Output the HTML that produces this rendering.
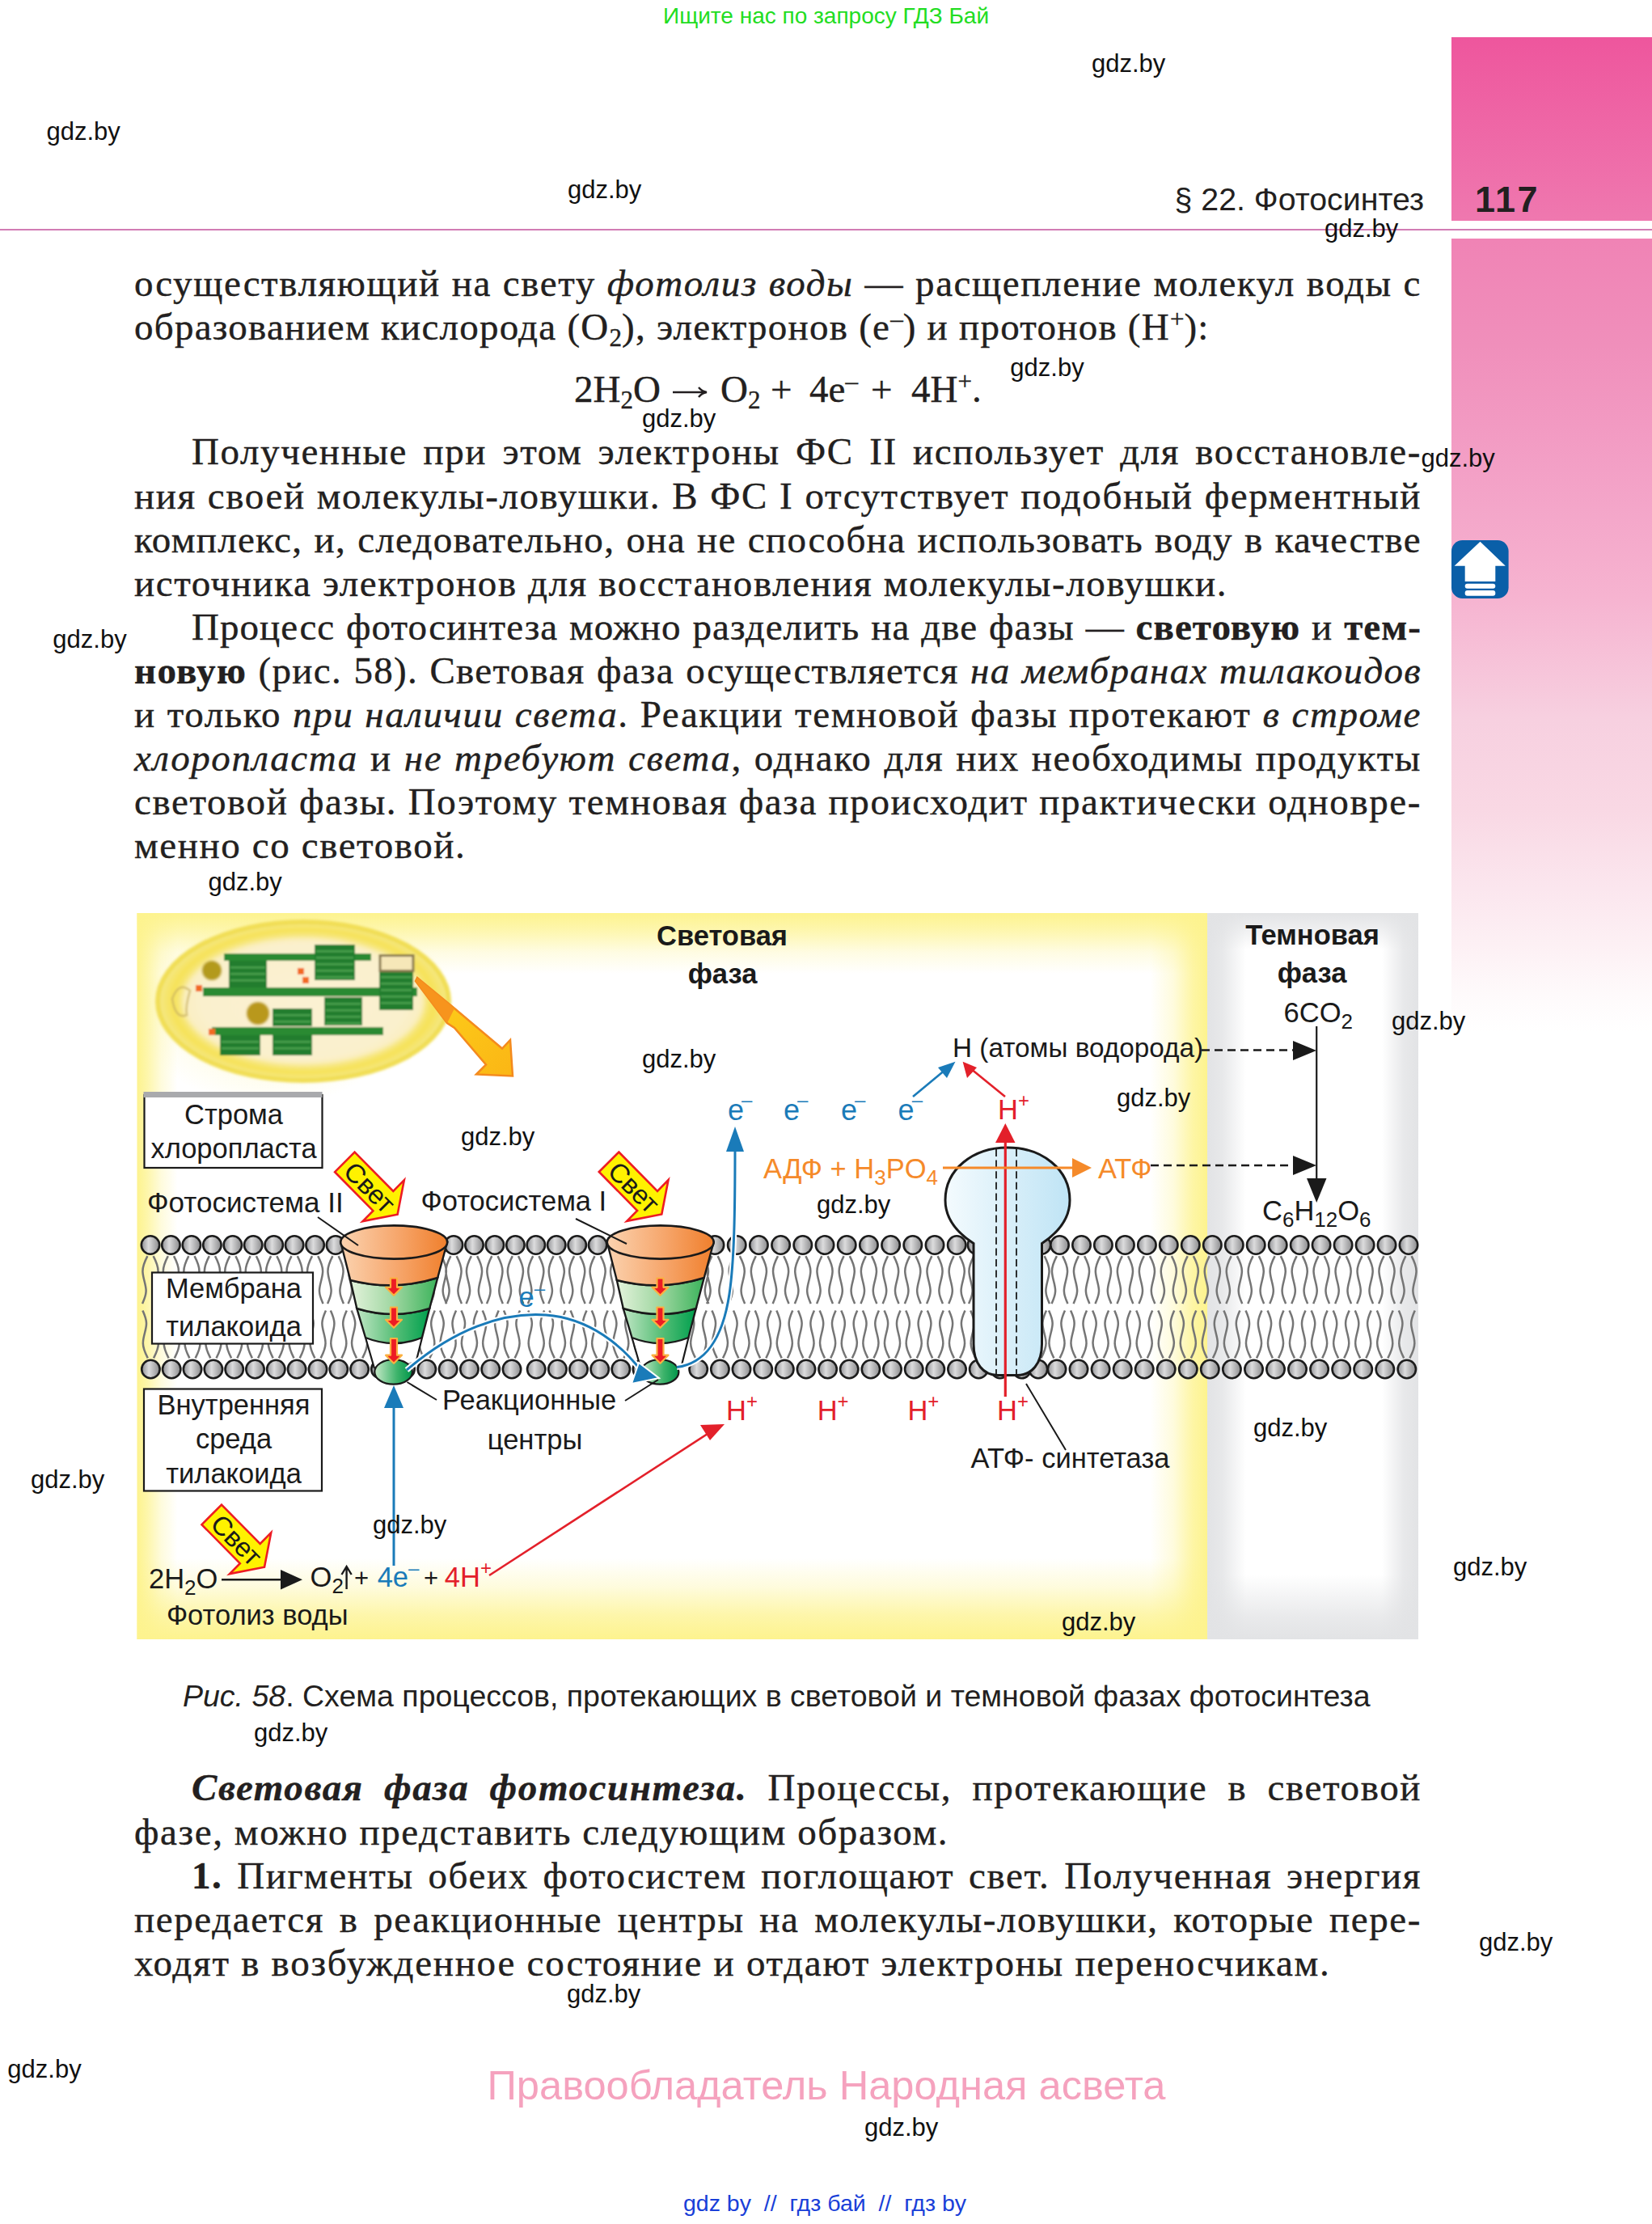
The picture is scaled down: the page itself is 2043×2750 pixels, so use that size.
<!DOCTYPE html>
<html><head><meta charset="utf-8">
<style>
html,body{margin:0;padding:0;background:#fff;}
#pg{position:relative;width:2043px;height:2750px;overflow:hidden;background:#fff;}
.a{position:absolute;white-space:nowrap;}
.ln{position:absolute;left:166px;width:1592px;font-family:"Liberation Serif",serif;font-size:47px;line-height:47px;letter-spacing:1.6px;white-space:nowrap;text-align:justify;text-align-last:justify;color:#231f20;-webkit-text-stroke:0.4px #231f20;}
.nj{text-align:left;text-align-last:left;width:auto;}
.ln i{font-style:italic;}
.ln b{font-weight:bold;}
.sb{font-size:31px;vertical-align:-8px;line-height:0;letter-spacing:0;}
.sp{font-size:31px;vertical-align:15px;line-height:0;letter-spacing:0;}
.sans{font-family:"Liberation Sans",sans-serif;}
</style></head><body>
<div id="pg">
<div class="a" style="left:1795px;top:46px;width:248px;height:227px;background:linear-gradient(#ee569d,#ef78af);"></div>
<div class="a" style="left:1795px;top:295px;width:248px;height:980px;background:linear-gradient(#f083b5 0%,#f08fbb 13.5%,#f3a0c6 29.2%,#f6b3d0 45%,#f7d0e0 60.7%,#f9d8e4 72%,#fbe6ee 82%,#fdf0f4 89%,#fefafb 95.4%,#fff 100%);"></div>
<div class="a" style="left:0;top:282.5px;width:2043px;height:2.2px;background:#d27cb4;"></div>
<svg class="a" style="left:1795px;top:668px" width="71" height="72" viewBox="0 0 71 72">
<rect x="0" y="0" width="70.6" height="72" rx="13.6" fill="#0a5fa8"/>
<path d="M35.5 1.8 L66.8 31.8 L54.3 31.8 L54.3 51.1 L16.7 51.1 L16.7 31.8 L3.6 31.8 Z" fill="#fff"/>
<rect x="16.7" y="53.8" width="37.6" height="6" rx="3" fill="#fff"/>
<rect x="16.7" y="62" width="37.6" height="6.8" rx="3" fill="#fff"/>
</svg>
<div class="a sans" style="left:1452.5px;top:227px;font-size:39.3px;line-height:39.3px;color:#231f20;">§ 22. Фотосинтез</div>
<div class="a sans" style="left:1824px;top:224px;font-size:45px;line-height:45px;font-weight:bold;letter-spacing:2.5px;color:#231f20;">117</div>
<div class="ln" style="top:326.5px;">осуществляющий на свету <i>фотолиз воды</i> — расщепление молекул воды с</div>
<div class="ln nj" style="top:380.7px;letter-spacing:1.25px;">образованием кислорода (O<span class="sb">2</span>), электронов (e<span class="sp">–</span>) и протонов (H<span class="sp">+</span>):</div>
<div class="a" style="left:710px;top:457.6px;font-family:'Liberation Serif',serif;font-size:47px;line-height:47px;color:#231f20;-webkit-text-stroke:0.4px #231f20;">2H<span class="sb">2</span>O</div>
<div class="a" style="left:891px;top:457.6px;font-family:'Liberation Serif',serif;font-size:47px;line-height:47px;color:#231f20;-webkit-text-stroke:0.4px #231f20;">O<span class="sb">2</span></div>
<div class="a" style="left:953px;top:457.6px;font-family:'Liberation Serif',serif;font-size:47px;line-height:47px;color:#231f20;-webkit-text-stroke:0.4px #231f20;">+</div>
<div class="a" style="left:1001px;top:457.6px;font-family:'Liberation Serif',serif;font-size:47px;line-height:47px;color:#231f20;-webkit-text-stroke:0.4px #231f20;">4e<span class="sp">–</span></div>
<div class="a" style="left:1077px;top:457.6px;font-family:'Liberation Serif',serif;font-size:47px;line-height:47px;color:#231f20;-webkit-text-stroke:0.4px #231f20;">+</div>
<div class="a" style="left:1127px;top:457.6px;font-family:'Liberation Serif',serif;font-size:47px;line-height:47px;color:#231f20;-webkit-text-stroke:0.4px #231f20;">4H<span class="sp">+</span>.</div>
<svg class="a" style="left:830px;top:475px" width="46" height="20" viewBox="0 0 46 20"><path d="M2 10 L42 10 M34 4 Q38 9 44 10 Q38 11 34 16" fill="none" stroke="#231f20" stroke-width="2.4"/></svg>
<div class="ln" style="top:535.4px;padding-left:71px;width:1521px;">Полученные при этом электроны ФС II использует для восстановле-</div>
<div class="ln" style="top:589.5px;">ния своей молекулы-ловушки. В ФС I отсутствует подобный ферментный</div>
<div class="ln" style="top:643.5px;letter-spacing:1.3px;">комплекс, и, следовательно, она не способна использовать воду в качестве</div>
<div class="ln nj" style="top:697.6px;">источника электронов для восстановления молекулы-ловушки.</div>
<div class="ln" style="top:751.6px;padding-left:71px;width:1521px;letter-spacing:1.05px;">Процесс фотосинтеза можно разделить на две фазы — <b>световую</b> и <b>тем-</b></div>
<div class="ln" style="top:805.7px;letter-spacing:1.3px;"><b>новую</b> (рис. 58). Световая фаза осуществляется <i>на мембранах тилакоидов</i></div>
<div class="ln" style="top:859.8px;">и только <i>при наличии света</i>. Реакции темновой фазы протекают <i>в строме</i></div>
<div class="ln" style="top:913.8px;"><i>хлоропласта</i> и <i>не требуют света</i>, однако для них необходимы продукты</div>
<div class="ln" style="top:967.9px;">световой фазы. Поэтому темновая фаза происходит практически одновре-</div>
<div class="ln nj" style="top:1021.9px;">менно со световой.</div>
<div class="a sans" style="left:226px;top:2078.5px;font-size:37.5px;line-height:37.5px;color:#231f20;"><i>Рис. 58</i>. Схема процессов, протекающих в световой и темновой фазах фотосинтеза</div>
<div class="ln" style="top:2187.3px;padding-left:71px;width:1521px;"><b><i>Световая фаза фотосинтеза.</i></b> Процессы, протекающие в световой</div>
<div class="ln nj" style="top:2241.5px;">фазе, можно представить следующим образом.</div>
<div class="ln" style="top:2295.7px;padding-left:71px;width:1521px;"><b>1.</b> Пигменты обеих фотосистем поглощают свет. Полученная энергия</div>
<div class="ln" style="top:2349.9px;">передается в реакционные центры на молекулы-ловушки, которые пере-</div>
<div class="ln nj" style="top:2404.1px;letter-spacing:1.75px;">ходят в возбужденное состояние и отдают электроны переносчикам.</div>
<div class="a sans" style="left:602.5px;top:2554px;font-size:50.6px;line-height:50.6px;color:#f5a2be;">Правообладатель Народная асвета</div>
<svg class="a" style="left:0;top:0" width="2043" height="2750" viewBox="0 0 2043 2750" font-family="Liberation Sans, sans-serif">
<defs>
<filter id="blurY" x="-20%" y="-20%" width="140%" height="140%"><feGaussianBlur stdDeviation="15"/></filter>
<filter id="blurG" x="-20%" y="-20%" width="140%" height="140%"><feGaussianBlur stdDeviation="12"/></filter>
<filter id="blur30" x="-20%" y="-20%" width="140%" height="140%"><feGaussianBlur stdDeviation="28"/></filter>
<filter id="blur20" x="-20%" y="-20%" width="140%" height="140%"><feGaussianBlur stdDeviation="18"/></filter>
<filter id="blur3" x="-20%" y="-20%" width="140%" height="140%"><feGaussianBlur stdDeviation="3"/></filter>
<filter id="blur1" x="-20%" y="-20%" width="140%" height="140%"><feGaussianBlur stdDeviation="1.2"/></filter>
<linearGradient id="head" x1="0" y1="0" x2="1" y2="0">
 <stop offset="0" stop-color="#8f9094"/><stop offset="0.4" stop-color="#dcdcdd"/><stop offset="1" stop-color="#8a8a8c"/>
</linearGradient>
<linearGradient id="orng" x1="0" y1="0" x2="1" y2="0">
 <stop offset="0" stop-color="#fbd3b0"/><stop offset="0.55" stop-color="#f6a56a"/><stop offset="1" stop-color="#f07f2c"/>
</linearGradient>
<linearGradient id="grn1" x1="0" y1="0" x2="1" y2="0">
 <stop offset="0" stop-color="#e4f3dc"/><stop offset="0.5" stop-color="#9ed6a0"/><stop offset="1" stop-color="#3bb35b"/>
</linearGradient>
<linearGradient id="grn2" x1="0" y1="0" x2="1" y2="0">
 <stop offset="0" stop-color="#bfe6c4"/><stop offset="0.5" stop-color="#5cc07a"/><stop offset="1" stop-color="#00a04e"/>
</linearGradient>
<linearGradient id="rc" x1="0" y1="0" x2="1" y2="0">
 <stop offset="0" stop-color="#c7e9c8"/><stop offset="0.6" stop-color="#3cb36a"/><stop offset="1" stop-color="#00954a"/>
</linearGradient>
<linearGradient id="atp" x1="0" y1="0" x2="1" y2="0">
 <stop offset="0" stop-color="#f4fbfe"/><stop offset="0.5" stop-color="#d9eff9"/><stop offset="1" stop-color="#bfe4f5"/>
</linearGradient>
<linearGradient id="garr" x1="0" y1="0" x2="1" y2="1">
 <stop offset="0" stop-color="#fdd21a"/><stop offset="1" stop-color="#fbb615"/>
</linearGradient>
<radialGradient id="chl" cx="0.5" cy="0.5" r="0.5">
 <stop offset="0" stop-color="#fbf3d6"/><stop offset="0.7" stop-color="#faeebb"/><stop offset="0.9" stop-color="#f6e25a"/><stop offset="1" stop-color="#f4e88a"/>
</radialGradient>
</defs>
<linearGradient id="gL" x1="0" y1="0" x2="1" y2="0"><stop offset="0" stop-color="#fdf38e" stop-opacity="1"/><stop offset="0.25" stop-color="#fdf38e" stop-opacity="0.75"/><stop offset="0.6" stop-color="#fdf38e" stop-opacity="0.3"/><stop offset="1" stop-color="#fdf38e" stop-opacity="0"/></linearGradient>
<linearGradient id="gR" x1="1" y1="0" x2="0" y2="0"><stop offset="0" stop-color="#fdf38e" stop-opacity="1"/><stop offset="0.25" stop-color="#fdf38e" stop-opacity="0.8"/><stop offset="0.6" stop-color="#fdf38e" stop-opacity="0.3"/><stop offset="1" stop-color="#fdf38e" stop-opacity="0"/></linearGradient>
<linearGradient id="gT" x1="0" y1="0" x2="0" y2="1"><stop offset="0" stop-color="#fdf38e" stop-opacity="1"/><stop offset="0.3" stop-color="#fdf38e" stop-opacity="0.7"/><stop offset="0.65" stop-color="#fdf38e" stop-opacity="0.25"/><stop offset="1" stop-color="#fdf38e" stop-opacity="0"/></linearGradient>
<linearGradient id="gB" x1="0" y1="1" x2="0" y2="0"><stop offset="0" stop-color="#fdf38e" stop-opacity="1"/><stop offset="0.3" stop-color="#fdf38e" stop-opacity="0.75"/><stop offset="0.65" stop-color="#fdf38e" stop-opacity="0.3"/><stop offset="1" stop-color="#fdf38e" stop-opacity="0"/></linearGradient>
<rect x="169.5" y="1129" width="1323.5" height="898" fill="#fff"/>
<rect x="169.5" y="1129" width="50" height="898" fill="url(#gL)"/>
<rect x="1423" y="1129" width="70" height="898" fill="url(#gR)"/>
<rect x="169.5" y="1129" width="1323.5" height="75" fill="url(#gT)"/>
<rect x="169.5" y="1927" width="1323.5" height="100" fill="url(#gB)"/>
<rect x="169.5" y="1129" width="330" height="240" fill="url(#gTL)"/>
<radialGradient id="gTL" cx="0.5" cy="0.5" r="0.5"><stop offset="0" stop-color="#fdf38e" stop-opacity="0.5"/><stop offset="1" stop-color="#fdf38e" stop-opacity="0"/></radialGradient>
<rect x="1493" y="1129" width="261" height="898" fill="#fff"/>
<linearGradient id="hL" x1="0" y1="0" x2="1" y2="0"><stop offset="0" stop-color="#e2e3e5" stop-opacity="1"/><stop offset="0.4" stop-color="#e2e3e5" stop-opacity="0.8"/><stop offset="1" stop-color="#e2e3e5" stop-opacity="0"/></linearGradient>
<linearGradient id="hR" x1="1" y1="0" x2="0" y2="0"><stop offset="0" stop-color="#e2e3e5" stop-opacity="1"/><stop offset="0.4" stop-color="#e2e3e5" stop-opacity="0.8"/><stop offset="1" stop-color="#e2e3e5" stop-opacity="0"/></linearGradient>
<linearGradient id="hT" x1="0" y1="0" x2="0" y2="1"><stop offset="0" stop-color="#e2e3e5" stop-opacity="1"/><stop offset="0.4" stop-color="#e2e3e5" stop-opacity="0.6"/><stop offset="1" stop-color="#e2e3e5" stop-opacity="0"/></linearGradient>
<linearGradient id="hB" x1="0" y1="1" x2="0" y2="0"><stop offset="0" stop-color="#e2e3e5" stop-opacity="1"/><stop offset="0.35" stop-color="#e2e3e5" stop-opacity="0.75"/><stop offset="1" stop-color="#e2e3e5" stop-opacity="0"/></linearGradient>
<rect x="1493" y="1129" width="48" height="898" fill="url(#hL)"/>
<rect x="1709" y="1129" width="45" height="898" fill="url(#hR)"/>
<rect x="1493" y="1129" width="261" height="45" fill="url(#hT)"/>
<rect x="1493" y="1947" width="261" height="80" fill="url(#hB)"/>
<g filter="url(#blur1)">
<ellipse cx="375" cy="1238" rx="180" ry="98" fill="url(#chl)" stroke="#f1de55" stroke-width="6" filter="url(#blur1)"/>
<ellipse cx="375" cy="1238" rx="150" ry="78" fill="#fbf1d2" filter="url(#blur3)" opacity="0.8"/>
<rect x="277" y="1179" width="182" height="9" fill="#2a8a32"/>
<rect x="251" y="1221" width="265" height="11" fill="#2a8a32"/>
<rect x="262" y="1270" width="212" height="10" fill="#2a8a32"/>
<rect x="283" y="1188" width="47" height="33" fill="#247d2d"/>
<rect x="285" y="1195" width="43" height="2.5" fill="#4aa04e"/>
<rect x="285" y="1203" width="43" height="2.5" fill="#4aa04e"/>
<rect x="285" y="1211" width="43" height="2.5" fill="#4aa04e"/>
<rect x="389" y="1168" width="50" height="44" fill="#247d2d"/>
<rect x="391" y="1175" width="46" height="2.5" fill="#4aa04e"/>
<rect x="391" y="1183" width="46" height="2.5" fill="#4aa04e"/>
<rect x="391" y="1191" width="46" height="2.5" fill="#4aa04e"/>
<rect x="391" y="1199" width="46" height="2.5" fill="#4aa04e"/>
<rect x="391" y="1207" width="46" height="2.5" fill="#4aa04e"/>
<rect x="469" y="1200" width="42" height="49" fill="#247d2d"/>
<rect x="471" y="1207" width="38" height="2.5" fill="#4aa04e"/>
<rect x="471" y="1215" width="38" height="2.5" fill="#4aa04e"/>
<rect x="471" y="1223" width="38" height="2.5" fill="#4aa04e"/>
<rect x="471" y="1231" width="38" height="2.5" fill="#4aa04e"/>
<rect x="471" y="1239" width="38" height="2.5" fill="#4aa04e"/>
<rect x="401" y="1233" width="47" height="35" fill="#247d2d"/>
<rect x="403" y="1240" width="43" height="2.5" fill="#4aa04e"/>
<rect x="403" y="1248" width="43" height="2.5" fill="#4aa04e"/>
<rect x="403" y="1256" width="43" height="2.5" fill="#4aa04e"/>
<rect x="403" y="1264" width="43" height="2.5" fill="#4aa04e"/>
<rect x="337" y="1247" width="49" height="22" fill="#247d2d"/>
<rect x="339" y="1254" width="45" height="2.5" fill="#4aa04e"/>
<rect x="339" y="1262" width="45" height="2.5" fill="#4aa04e"/>
<rect x="272" y="1280" width="50" height="25" fill="#247d2d"/>
<rect x="274" y="1287" width="46" height="2.5" fill="#4aa04e"/>
<rect x="274" y="1295" width="46" height="2.5" fill="#4aa04e"/>
<rect x="337" y="1280" width="49" height="25" fill="#247d2d"/>
<rect x="339" y="1287" width="45" height="2.5" fill="#4aa04e"/>
<rect x="339" y="1295" width="45" height="2.5" fill="#4aa04e"/>
<rect x="470" y="1181.5" width="41" height="19" fill="#f6e7b8" stroke="#8a7a50" stroke-width="3"/>
<circle cx="262" cy="1200" r="12" fill="#b39a1c" filter="url(#blur1)"/>
<circle cx="319" cy="1253" r="14" fill="#b9981a" filter="url(#blur1)"/>
<rect x="242" y="1218" width="8" height="8" fill="#f26a21"/>
<rect x="368" y="1197" width="8" height="8" fill="#f26a21"/>
<rect x="374" y="1208" width="8" height="8" fill="#f26a21"/>
<rect x="258" y="1272" width="8" height="8" fill="#f26a21"/>
<path d="M213 1235 q8 -22 22 -10 q-6 20 -4 30 q-14 6 -18 -20z" fill="none" stroke="#c8b060" stroke-width="3" opacity="0.6"/>
</g>
<path d="M516 1209 L561 1246 L621 1296.5 L631 1286 L634 1330.5 L589 1328.5 L601 1316.5 L562 1271 L553 1265 L514 1213 Z" fill="url(#garr)" stroke="#f48a1e" stroke-width="2.5" stroke-linejoin="miter"/>
<path d="M516 1209 L562 1247 L553 1265 L514 1213 Z" fill="#f7941d"/>
<path d="M189.6 1553.1 C194.0 1561.5 196.0 1567.5 195.5 1573.1 195.0 1581.5 191.0 1589.5 191.4 1596.7 191.6 1602.5 194.0 1607.5 196.0 1612.1 M182.4 1553.1 C178.0 1561.5 176.0 1567.5 176.5 1573.1 177.0 1581.5 181.0 1589.5 180.6 1596.7 180.4 1602.5 178.0 1607.5 176.0 1612.1 M215.0 1553.1 C219.4 1561.5 221.4 1567.5 220.9 1573.1 220.4 1581.5 216.4 1589.5 216.8 1596.7 217.0 1602.5 219.4 1607.5 221.4 1612.1 M207.8 1553.1 C203.4 1561.5 201.4 1567.5 201.9 1573.1 202.4 1581.5 206.4 1589.5 206.0 1596.7 205.8 1602.5 203.4 1607.5 201.4 1612.1 M240.5 1553.1 C244.9 1561.5 246.9 1567.5 246.4 1573.1 245.9 1581.5 241.9 1589.5 242.3 1596.7 242.5 1602.5 244.9 1607.5 246.9 1612.1 M233.3 1553.1 C228.9 1561.5 226.9 1567.5 227.4 1573.1 227.9 1581.5 231.9 1589.5 231.5 1596.7 231.3 1602.5 228.9 1607.5 226.9 1612.1 M266.0 1553.1 C270.4 1561.5 272.4 1567.5 271.9 1573.1 271.4 1581.5 267.4 1589.5 267.8 1596.7 268.0 1602.5 270.4 1607.5 272.4 1612.1 M258.8 1553.1 C254.4 1561.5 252.4 1567.5 252.9 1573.1 253.4 1581.5 257.4 1589.5 257.0 1596.7 256.8 1602.5 254.4 1607.5 252.4 1612.1 M291.4 1553.1 C295.8 1561.5 297.8 1567.5 297.3 1573.1 296.8 1581.5 292.8 1589.5 293.2 1596.7 293.4 1602.5 295.8 1607.5 297.8 1612.1 M284.2 1553.1 C279.8 1561.5 277.8 1567.5 278.3 1573.1 278.8 1581.5 282.8 1589.5 282.4 1596.7 282.2 1602.5 279.8 1607.5 277.8 1612.1 M316.9 1553.1 C321.2 1561.5 323.2 1567.5 322.8 1573.1 322.2 1581.5 318.2 1589.5 318.6 1596.7 318.9 1602.5 321.2 1607.5 323.2 1612.1 M309.6 1553.1 C305.2 1561.5 303.2 1567.5 303.8 1573.1 304.2 1581.5 308.2 1589.5 307.9 1596.7 307.6 1602.5 305.2 1607.5 303.2 1612.1 M342.3 1553.1 C346.7 1561.5 348.7 1567.5 348.2 1573.1 347.7 1581.5 343.7 1589.5 344.1 1596.7 344.3 1602.5 346.7 1607.5 348.7 1612.1 M335.1 1553.1 C330.7 1561.5 328.7 1567.5 329.2 1573.1 329.7 1581.5 333.7 1589.5 333.3 1596.7 333.1 1602.5 330.7 1607.5 328.7 1612.1 M367.8 1553.1 C372.1 1561.5 374.1 1567.5 373.6 1573.1 373.1 1581.5 369.1 1589.5 369.5 1596.7 369.8 1602.5 372.1 1607.5 374.1 1612.1 M360.5 1553.1 C356.1 1561.5 354.1 1567.5 354.6 1573.1 355.1 1581.5 359.1 1589.5 358.8 1596.7 358.5 1602.5 356.1 1607.5 354.1 1612.1 M393.2 1553.1 C397.6 1561.5 399.6 1567.5 399.1 1573.1 398.6 1581.5 394.6 1589.5 395.0 1596.7 395.2 1602.5 397.6 1607.5 399.6 1612.1 M386.0 1553.1 C381.6 1561.5 379.6 1567.5 380.1 1573.1 380.6 1581.5 384.6 1589.5 384.2 1596.7 384.0 1602.5 381.6 1607.5 379.6 1612.1 M418.6 1553.1 C423.0 1561.5 425.0 1567.5 424.5 1573.1 424.0 1581.5 420.0 1589.5 420.4 1596.7 420.6 1602.5 423.0 1607.5 425.0 1612.1 M411.4 1553.1 C407.0 1561.5 405.0 1567.5 405.5 1573.1 406.0 1581.5 410.0 1589.5 409.6 1596.7 409.4 1602.5 407.0 1607.5 405.0 1612.1 M444.1 1553.1 C448.5 1561.5 450.5 1567.5 450.0 1573.1 449.5 1581.5 445.5 1589.5 445.9 1596.7 446.1 1602.5 448.5 1607.5 450.5 1612.1 M436.9 1553.1 C432.5 1561.5 430.5 1567.5 431.0 1573.1 431.5 1581.5 435.5 1589.5 435.1 1596.7 434.9 1602.5 432.5 1607.5 430.5 1612.1 M469.6 1553.1 C473.9 1561.5 475.9 1567.5 475.4 1573.1 474.9 1581.5 470.9 1589.5 471.3 1596.7 471.6 1602.5 473.9 1607.5 475.9 1612.1 M462.3 1553.1 C457.9 1561.5 455.9 1567.5 456.4 1573.1 456.9 1581.5 460.9 1589.5 460.6 1596.7 460.3 1602.5 457.9 1607.5 455.9 1612.1 M495.0 1553.1 C499.4 1561.5 501.4 1567.5 500.9 1573.1 500.4 1581.5 496.4 1589.5 496.8 1596.7 497.0 1602.5 499.4 1607.5 501.4 1612.1 M487.8 1553.1 C483.4 1561.5 481.4 1567.5 481.9 1573.1 482.4 1581.5 486.4 1589.5 486.0 1596.7 485.8 1602.5 483.4 1607.5 481.4 1612.1 M520.4 1553.1 C524.8 1561.5 526.8 1567.5 526.3 1573.1 525.8 1581.5 521.8 1589.5 522.2 1596.7 522.4 1602.5 524.8 1607.5 526.8 1612.1 M513.2 1553.1 C508.8 1561.5 506.8 1567.5 507.3 1573.1 507.8 1581.5 511.8 1589.5 511.4 1596.7 511.2 1602.5 508.8 1607.5 506.8 1612.1 M545.9 1553.1 C550.3 1561.5 552.3 1567.5 551.8 1573.1 551.3 1581.5 547.3 1589.5 547.7 1596.7 547.9 1602.5 550.3 1607.5 552.3 1612.1 M538.7 1553.1 C534.3 1561.5 532.3 1567.5 532.8 1573.1 533.3 1581.5 537.3 1589.5 536.9 1596.7 536.7 1602.5 534.3 1607.5 532.3 1612.1 M564.6 1553.1 C569.0 1561.5 571.0 1567.5 570.5 1573.1 570.0 1581.5 566.0 1589.5 566.4 1596.7 566.6 1602.5 569.0 1607.5 571.0 1612.1 M557.4 1553.1 C553.0 1561.5 551.0 1567.5 551.5 1573.1 552.0 1581.5 556.0 1589.5 555.6 1596.7 555.4 1602.5 553.0 1607.5 551.0 1612.1 M590.1 1553.1 C594.5 1561.5 596.5 1567.5 596.0 1573.1 595.5 1581.5 591.5 1589.5 591.9 1596.7 592.1 1602.5 594.5 1607.5 596.5 1612.1 M582.9 1553.1 C578.5 1561.5 576.5 1567.5 577.0 1573.1 577.5 1581.5 581.5 1589.5 581.1 1596.7 580.9 1602.5 578.5 1607.5 576.5 1612.1 M615.5 1553.1 C619.9 1561.5 621.9 1567.5 621.4 1573.1 620.9 1581.5 616.9 1589.5 617.3 1596.7 617.5 1602.5 619.9 1607.5 621.9 1612.1 M608.3 1553.1 C603.9 1561.5 601.9 1567.5 602.4 1573.1 602.9 1581.5 606.9 1589.5 606.5 1596.7 606.3 1602.5 603.9 1607.5 601.9 1612.1 M641.0 1553.1 C645.4 1561.5 647.4 1567.5 646.9 1573.1 646.4 1581.5 642.4 1589.5 642.8 1596.7 643.0 1602.5 645.4 1607.5 647.4 1612.1 M633.8 1553.1 C629.4 1561.5 627.4 1567.5 627.9 1573.1 628.4 1581.5 632.4 1589.5 632.0 1596.7 631.8 1602.5 629.4 1607.5 627.4 1612.1 M666.4 1553.1 C670.8 1561.5 672.8 1567.5 672.3 1573.1 671.8 1581.5 667.8 1589.5 668.2 1596.7 668.4 1602.5 670.8 1607.5 672.8 1612.1 M659.2 1553.1 C654.8 1561.5 652.8 1567.5 653.3 1573.1 653.8 1581.5 657.8 1589.5 657.4 1596.7 657.2 1602.5 654.8 1607.5 652.8 1612.1 M691.9 1553.1 C696.2 1561.5 698.2 1567.5 697.8 1573.1 697.2 1581.5 693.2 1589.5 693.6 1596.7 693.9 1602.5 696.2 1607.5 698.2 1612.1 M684.6 1553.1 C680.2 1561.5 678.2 1567.5 678.8 1573.1 679.2 1581.5 683.2 1589.5 682.9 1596.7 682.6 1602.5 680.2 1607.5 678.2 1612.1 M717.3 1553.1 C721.7 1561.5 723.7 1567.5 723.2 1573.1 722.7 1581.5 718.7 1589.5 719.1 1596.7 719.3 1602.5 721.7 1607.5 723.7 1612.1 M710.1 1553.1 C705.7 1561.5 703.7 1567.5 704.2 1573.1 704.7 1581.5 708.7 1589.5 708.3 1596.7 708.1 1602.5 705.7 1607.5 703.7 1612.1 M742.8 1553.1 C747.1 1561.5 749.1 1567.5 748.6 1573.1 748.1 1581.5 744.1 1589.5 744.5 1596.7 744.8 1602.5 747.1 1607.5 749.1 1612.1 M735.5 1553.1 C731.1 1561.5 729.1 1567.5 729.6 1573.1 730.1 1581.5 734.1 1589.5 733.8 1596.7 733.5 1602.5 731.1 1607.5 729.1 1612.1 M768.2 1553.1 C772.6 1561.5 774.6 1567.5 774.1 1573.1 773.6 1581.5 769.6 1589.5 770.0 1596.7 770.2 1602.5 772.6 1607.5 774.6 1612.1 M761.0 1553.1 C756.6 1561.5 754.6 1567.5 755.1 1573.1 755.6 1581.5 759.6 1589.5 759.2 1596.7 759.0 1602.5 756.6 1607.5 754.6 1612.1 M793.6 1553.1 C798.0 1561.5 800.0 1567.5 799.5 1573.1 799.0 1581.5 795.0 1589.5 795.4 1596.7 795.6 1602.5 798.0 1607.5 800.0 1612.1 M786.4 1553.1 C782.0 1561.5 780.0 1567.5 780.5 1573.1 781.0 1581.5 785.0 1589.5 784.6 1596.7 784.4 1602.5 782.0 1607.5 780.0 1612.1 M819.1 1553.1 C823.5 1561.5 825.5 1567.5 825.0 1573.1 824.5 1581.5 820.5 1589.5 820.9 1596.7 821.1 1602.5 823.5 1607.5 825.5 1612.1 M811.9 1553.1 C807.5 1561.5 805.5 1567.5 806.0 1573.1 806.5 1581.5 810.5 1589.5 810.1 1596.7 809.9 1602.5 807.5 1607.5 805.5 1612.1 M844.6 1553.1 C849.0 1561.5 851.0 1567.5 850.5 1573.1 850.0 1581.5 846.0 1589.5 846.4 1596.7 846.6 1602.5 849.0 1607.5 851.0 1612.1 M837.4 1553.1 C833.0 1561.5 831.0 1567.5 831.5 1573.1 832.0 1581.5 836.0 1589.5 835.6 1596.7 835.4 1602.5 833.0 1607.5 831.0 1612.1 M870.0 1553.1 C874.4 1561.5 876.4 1567.5 875.9 1573.1 875.4 1581.5 871.4 1589.5 871.8 1596.7 872.0 1602.5 874.4 1607.5 876.4 1612.1 M862.8 1553.1 C858.4 1561.5 856.4 1567.5 856.9 1573.1 857.4 1581.5 861.4 1589.5 861.0 1596.7 860.8 1602.5 858.4 1607.5 856.4 1612.1 M887.6 1553.1 C892.0 1561.5 894.0 1567.5 893.5 1573.1 893.0 1581.5 889.0 1589.5 889.4 1596.7 889.6 1602.5 892.0 1607.5 894.0 1612.1 M880.4 1553.1 C876.0 1561.5 874.0 1567.5 874.5 1573.1 875.0 1581.5 879.0 1589.5 878.6 1596.7 878.4 1602.5 876.0 1607.5 874.0 1612.1 M914.8 1553.1 C919.2 1561.5 921.2 1567.5 920.7 1573.1 920.2 1581.5 916.2 1589.5 916.6 1596.7 916.8 1602.5 919.2 1607.5 921.2 1612.1 M907.6 1553.1 C903.2 1561.5 901.2 1567.5 901.7 1573.1 902.2 1581.5 906.2 1589.5 905.8 1596.7 905.6 1602.5 903.2 1607.5 901.2 1612.1 M942.0 1553.1 C946.4 1561.5 948.4 1567.5 947.9 1573.1 947.4 1581.5 943.4 1589.5 943.8 1596.7 944.0 1602.5 946.4 1607.5 948.4 1612.1 M934.8 1553.1 C930.4 1561.5 928.4 1567.5 928.9 1573.1 929.4 1581.5 933.4 1589.5 933.0 1596.7 932.8 1602.5 930.4 1607.5 928.4 1612.1 M969.2 1553.1 C973.6 1561.5 975.6 1567.5 975.1 1573.1 974.6 1581.5 970.6 1589.5 971.0 1596.7 971.2 1602.5 973.6 1607.5 975.6 1612.1 M962.0 1553.1 C957.6 1561.5 955.6 1567.5 956.1 1573.1 956.6 1581.5 960.6 1589.5 960.2 1596.7 960.0 1602.5 957.6 1607.5 955.6 1612.1 M996.4 1553.1 C1000.8 1561.5 1002.8 1567.5 1002.3 1573.1 1001.8 1581.5 997.8 1589.5 998.2 1596.7 998.4 1602.5 1000.8 1607.5 1002.8 1612.1 M989.2 1553.1 C984.8 1561.5 982.8 1567.5 983.3 1573.1 983.8 1581.5 987.8 1589.5 987.4 1596.7 987.2 1602.5 984.8 1607.5 982.8 1612.1 M1023.6 1553.1 C1028.0 1561.5 1030.0 1567.5 1029.5 1573.1 1029.0 1581.5 1025.0 1589.5 1025.4 1596.7 1025.6 1602.5 1028.0 1607.5 1030.0 1612.1 M1016.4 1553.1 C1012.0 1561.5 1010.0 1567.5 1010.5 1573.1 1011.0 1581.5 1015.0 1589.5 1014.6 1596.7 1014.4 1602.5 1012.0 1607.5 1010.0 1612.1 M1050.8 1553.1 C1055.2 1561.5 1057.2 1567.5 1056.7 1573.1 1056.2 1581.5 1052.2 1589.5 1052.6 1596.7 1052.8 1602.5 1055.2 1607.5 1057.2 1612.1 M1043.6 1553.1 C1039.2 1561.5 1037.2 1567.5 1037.7 1573.1 1038.2 1581.5 1042.2 1589.5 1041.8 1596.7 1041.6 1602.5 1039.2 1607.5 1037.2 1612.1 M1078.0 1553.1 C1082.4 1561.5 1084.4 1567.5 1083.9 1573.1 1083.4 1581.5 1079.4 1589.5 1079.8 1596.7 1080.0 1602.5 1082.4 1607.5 1084.4 1612.1 M1070.8 1553.1 C1066.4 1561.5 1064.4 1567.5 1064.9 1573.1 1065.4 1581.5 1069.4 1589.5 1069.0 1596.7 1068.8 1602.5 1066.4 1607.5 1064.4 1612.1 M1105.2 1553.1 C1109.6 1561.5 1111.6 1567.5 1111.1 1573.1 1110.6 1581.5 1106.6 1589.5 1107.0 1596.7 1107.2 1602.5 1109.6 1607.5 1111.6 1612.1 M1098.0 1553.1 C1093.6 1561.5 1091.6 1567.5 1092.1 1573.1 1092.6 1581.5 1096.6 1589.5 1096.2 1596.7 1096.0 1602.5 1093.6 1607.5 1091.6 1612.1 M1132.4 1553.1 C1136.8 1561.5 1138.8 1567.5 1138.3 1573.1 1137.8 1581.5 1133.8 1589.5 1134.2 1596.7 1134.4 1602.5 1136.8 1607.5 1138.8 1612.1 M1125.2 1553.1 C1120.8 1561.5 1118.8 1567.5 1119.3 1573.1 1119.8 1581.5 1123.8 1589.5 1123.4 1596.7 1123.2 1602.5 1120.8 1607.5 1118.8 1612.1 M1159.6 1553.1 C1164.0 1561.5 1166.0 1567.5 1165.5 1573.1 1165.0 1581.5 1161.0 1589.5 1161.4 1596.7 1161.6 1602.5 1164.0 1607.5 1166.0 1612.1 M1152.4 1553.1 C1148.0 1561.5 1146.0 1567.5 1146.5 1573.1 1147.0 1581.5 1151.0 1589.5 1150.6 1596.7 1150.4 1602.5 1148.0 1607.5 1146.0 1612.1 M1186.8 1553.1 C1191.2 1561.5 1193.2 1567.5 1192.7 1573.1 1192.2 1581.5 1188.2 1589.5 1188.6 1596.7 1188.8 1602.5 1191.2 1607.5 1193.2 1612.1 M1179.6 1553.1 C1175.2 1561.5 1173.2 1567.5 1173.7 1573.1 1174.2 1581.5 1178.2 1589.5 1177.8 1596.7 1177.6 1602.5 1175.2 1607.5 1173.2 1612.1 M1211.6 1553.1 C1216.0 1561.5 1218.0 1567.5 1217.5 1573.1 1217.0 1581.5 1213.0 1589.5 1213.4 1596.7 1213.6 1602.5 1216.0 1607.5 1218.0 1612.1 M1204.4 1553.1 C1200.0 1561.5 1198.0 1567.5 1198.5 1573.1 1199.0 1581.5 1203.0 1589.5 1202.6 1596.7 1202.4 1602.5 1200.0 1607.5 1198.0 1612.1 M1239.6 1553.1 C1244.0 1561.5 1246.0 1567.5 1245.5 1573.1 1245.0 1581.5 1241.0 1589.5 1241.4 1596.7 1241.6 1602.5 1244.0 1607.5 1246.0 1612.1 M1232.4 1553.1 C1228.0 1561.5 1226.0 1567.5 1226.5 1573.1 1227.0 1581.5 1231.0 1589.5 1230.6 1596.7 1230.4 1602.5 1228.0 1607.5 1226.0 1612.1 M1265.6 1553.1 C1270.0 1561.5 1272.0 1567.5 1271.5 1573.1 1271.0 1581.5 1267.0 1589.5 1267.4 1596.7 1267.6 1602.5 1270.0 1607.5 1272.0 1612.1 M1258.4 1553.1 C1254.0 1561.5 1252.0 1567.5 1252.5 1573.1 1253.0 1581.5 1257.0 1589.5 1256.6 1596.7 1256.4 1602.5 1254.0 1607.5 1252.0 1612.1 M1291.6 1553.1 C1296.0 1561.5 1298.0 1567.5 1297.5 1573.1 1297.0 1581.5 1293.0 1589.5 1293.4 1596.7 1293.6 1602.5 1296.0 1607.5 1298.0 1612.1 M1284.4 1553.1 C1280.0 1561.5 1278.0 1567.5 1278.5 1573.1 1279.0 1581.5 1283.0 1589.5 1282.6 1596.7 1282.4 1602.5 1280.0 1607.5 1278.0 1612.1 M1314.1 1553.1 C1318.5 1561.5 1320.5 1567.5 1320.0 1573.1 1319.5 1581.5 1315.5 1589.5 1315.9 1596.7 1316.1 1602.5 1318.5 1607.5 1320.5 1612.1 M1306.9 1553.1 C1302.5 1561.5 1300.5 1567.5 1301.0 1573.1 1301.5 1581.5 1305.5 1589.5 1305.1 1596.7 1304.9 1602.5 1302.5 1607.5 1300.5 1612.1 M1341.1 1553.1 C1345.5 1561.5 1347.5 1567.5 1347.0 1573.1 1346.5 1581.5 1342.5 1589.5 1342.9 1596.7 1343.1 1602.5 1345.5 1607.5 1347.5 1612.1 M1333.9 1553.1 C1329.5 1561.5 1327.5 1567.5 1328.0 1573.1 1328.5 1581.5 1332.5 1589.5 1332.1 1596.7 1331.9 1602.5 1329.5 1607.5 1327.5 1612.1 M1368.0 1553.1 C1372.4 1561.5 1374.4 1567.5 1373.9 1573.1 1373.4 1581.5 1369.4 1589.5 1369.8 1596.7 1370.0 1602.5 1372.4 1607.5 1374.4 1612.1 M1360.8 1553.1 C1356.4 1561.5 1354.4 1567.5 1354.9 1573.1 1355.4 1581.5 1359.4 1589.5 1359.0 1596.7 1358.8 1602.5 1356.4 1607.5 1354.4 1612.1 M1395.0 1553.1 C1399.4 1561.5 1401.4 1567.5 1400.9 1573.1 1400.4 1581.5 1396.4 1589.5 1396.8 1596.7 1397.0 1602.5 1399.4 1607.5 1401.4 1612.1 M1387.8 1553.1 C1383.4 1561.5 1381.4 1567.5 1381.9 1573.1 1382.4 1581.5 1386.4 1589.5 1386.0 1596.7 1385.8 1602.5 1383.4 1607.5 1381.4 1612.1 M1422.0 1553.1 C1426.4 1561.5 1428.4 1567.5 1427.9 1573.1 1427.4 1581.5 1423.4 1589.5 1423.8 1596.7 1424.0 1602.5 1426.4 1607.5 1428.4 1612.1 M1414.8 1553.1 C1410.4 1561.5 1408.4 1567.5 1408.9 1573.1 1409.4 1581.5 1413.4 1589.5 1413.0 1596.7 1412.8 1602.5 1410.4 1607.5 1408.4 1612.1 M1448.9 1553.1 C1453.3 1561.5 1455.3 1567.5 1454.8 1573.1 1454.3 1581.5 1450.3 1589.5 1450.8 1596.7 1450.9 1602.5 1453.3 1607.5 1455.3 1612.1 M1441.8 1553.1 C1437.3 1561.5 1435.3 1567.5 1435.8 1573.1 1436.3 1581.5 1440.3 1589.5 1439.9 1596.7 1439.8 1602.5 1437.3 1607.5 1435.3 1612.1 M1475.9 1553.1 C1480.3 1561.5 1482.3 1567.5 1481.8 1573.1 1481.3 1581.5 1477.3 1589.5 1477.7 1596.7 1477.9 1602.5 1480.3 1607.5 1482.3 1612.1 M1468.7 1553.1 C1464.3 1561.5 1462.3 1567.5 1462.8 1573.1 1463.3 1581.5 1467.3 1589.5 1466.9 1596.7 1466.7 1602.5 1464.3 1607.5 1462.3 1612.1 M1502.9 1553.1 C1507.3 1561.5 1509.3 1567.5 1508.8 1573.1 1508.3 1581.5 1504.3 1589.5 1504.7 1596.7 1504.9 1602.5 1507.3 1607.5 1509.3 1612.1 M1495.7 1553.1 C1491.3 1561.5 1489.3 1567.5 1489.8 1573.1 1490.3 1581.5 1494.3 1589.5 1493.9 1596.7 1493.7 1602.5 1491.3 1607.5 1489.3 1612.1 M1529.9 1553.1 C1534.3 1561.5 1536.3 1567.5 1535.8 1573.1 1535.3 1581.5 1531.3 1589.5 1531.7 1596.7 1531.9 1602.5 1534.3 1607.5 1536.3 1612.1 M1522.7 1553.1 C1518.3 1561.5 1516.3 1567.5 1516.8 1573.1 1517.3 1581.5 1521.3 1589.5 1520.9 1596.7 1520.7 1602.5 1518.3 1607.5 1516.3 1612.1 M1556.8 1553.1 C1561.2 1561.5 1563.2 1567.5 1562.7 1573.1 1562.2 1581.5 1558.2 1589.5 1558.6 1596.7 1558.8 1602.5 1561.2 1607.5 1563.2 1612.1 M1549.6 1553.1 C1545.2 1561.5 1543.2 1567.5 1543.7 1573.1 1544.2 1581.5 1548.2 1589.5 1547.8 1596.7 1547.6 1602.5 1545.2 1607.5 1543.2 1612.1 M1583.8 1553.1 C1588.2 1561.5 1590.2 1567.5 1589.7 1573.1 1589.2 1581.5 1585.2 1589.5 1585.6 1596.7 1585.8 1602.5 1588.2 1607.5 1590.2 1612.1 M1576.6 1553.1 C1572.2 1561.5 1570.2 1567.5 1570.7 1573.1 1571.2 1581.5 1575.2 1589.5 1574.8 1596.7 1574.6 1602.5 1572.2 1607.5 1570.2 1612.1 M1610.8 1553.1 C1615.2 1561.5 1617.2 1567.5 1616.7 1573.1 1616.2 1581.5 1612.2 1589.5 1612.6 1596.7 1612.8 1602.5 1615.2 1607.5 1617.2 1612.1 M1603.6 1553.1 C1599.2 1561.5 1597.2 1567.5 1597.7 1573.1 1598.2 1581.5 1602.2 1589.5 1601.8 1596.7 1601.6 1602.5 1599.2 1607.5 1597.2 1612.1 M1637.7 1553.1 C1642.1 1561.5 1644.1 1567.5 1643.6 1573.1 1643.1 1581.5 1639.1 1589.5 1639.5 1596.7 1639.7 1602.5 1642.1 1607.5 1644.1 1612.1 M1630.5 1553.1 C1626.1 1561.5 1624.1 1567.5 1624.6 1573.1 1625.1 1581.5 1629.1 1589.5 1628.7 1596.7 1628.5 1602.5 1626.1 1607.5 1624.1 1612.1 M1664.7 1553.1 C1669.1 1561.5 1671.1 1567.5 1670.6 1573.1 1670.1 1581.5 1666.1 1589.5 1666.5 1596.7 1666.7 1602.5 1669.1 1607.5 1671.1 1612.1 M1657.5 1553.1 C1653.1 1561.5 1651.1 1567.5 1651.6 1573.1 1652.1 1581.5 1656.1 1589.5 1655.7 1596.7 1655.5 1602.5 1653.1 1607.5 1651.1 1612.1 M1691.7 1553.1 C1696.1 1561.5 1698.1 1567.5 1697.6 1573.1 1697.1 1581.5 1693.1 1589.5 1693.5 1596.7 1693.7 1602.5 1696.1 1607.5 1698.1 1612.1 M1684.5 1553.1 C1680.1 1561.5 1678.1 1567.5 1678.6 1573.1 1679.1 1581.5 1683.1 1589.5 1682.7 1596.7 1682.5 1602.5 1680.1 1607.5 1678.1 1612.1 M1718.6 1553.1 C1723.0 1561.5 1725.0 1567.5 1724.5 1573.1 1724.0 1581.5 1720.0 1589.5 1720.5 1596.7 1720.6 1602.5 1723.0 1607.5 1725.0 1612.1 M1711.5 1553.1 C1707.0 1561.5 1705.0 1567.5 1705.5 1573.1 1706.0 1581.5 1710.0 1589.5 1709.6 1596.7 1709.5 1602.5 1707.0 1607.5 1705.0 1612.1 M1745.6 1553.1 C1750.0 1561.5 1752.0 1567.5 1751.5 1573.1 1751.0 1581.5 1747.0 1589.5 1747.4 1596.7 1747.6 1602.5 1750.0 1607.5 1752.0 1612.1 M1738.4 1553.1 C1734.0 1561.5 1732.0 1567.5 1732.5 1573.1 1733.0 1581.5 1737.0 1589.5 1736.6 1596.7 1736.4 1602.5 1734.0 1607.5 1732.0 1612.1 M190.0 1679.4 C194.4 1671.0 196.4 1665.0 195.9 1659.4 195.4 1651.0 191.4 1643.0 191.8 1635.8 192.0 1630.0 194.4 1625.0 196.4 1620.4 M182.8 1679.4 C178.4 1671.0 176.4 1665.0 176.9 1659.4 177.4 1651.0 181.4 1643.0 181.0 1635.8 180.8 1630.0 178.4 1625.0 176.4 1620.4 M215.8 1679.4 C220.2 1671.0 222.2 1665.0 221.7 1659.4 221.2 1651.0 217.2 1643.0 217.6 1635.8 217.8 1630.0 220.2 1625.0 222.2 1620.4 M208.6 1679.4 C204.2 1671.0 202.2 1665.0 202.7 1659.4 203.2 1651.0 207.2 1643.0 206.8 1635.8 206.6 1630.0 204.2 1625.0 202.2 1620.4 M241.6 1679.4 C246.0 1671.0 248.0 1665.0 247.5 1659.4 247.0 1651.0 243.0 1643.0 243.4 1635.8 243.6 1630.0 246.0 1625.0 248.0 1620.4 M234.4 1679.4 C230.0 1671.0 228.0 1665.0 228.5 1659.4 229.0 1651.0 233.0 1643.0 232.6 1635.8 232.4 1630.0 230.0 1625.0 228.0 1620.4 M267.5 1679.4 C271.9 1671.0 273.9 1665.0 273.4 1659.4 272.9 1651.0 268.9 1643.0 269.3 1635.8 269.5 1630.0 271.9 1625.0 273.9 1620.4 M260.3 1679.4 C255.9 1671.0 253.9 1665.0 254.4 1659.4 254.9 1651.0 258.9 1643.0 258.5 1635.8 258.3 1630.0 255.9 1625.0 253.9 1620.4 M293.3 1679.4 C297.7 1671.0 299.7 1665.0 299.2 1659.4 298.7 1651.0 294.7 1643.0 295.1 1635.8 295.3 1630.0 297.7 1625.0 299.7 1620.4 M286.1 1679.4 C281.7 1671.0 279.7 1665.0 280.2 1659.4 280.7 1651.0 284.7 1643.0 284.3 1635.8 284.1 1630.0 281.7 1625.0 279.7 1620.4 M319.1 1679.4 C323.5 1671.0 325.5 1665.0 325.0 1659.4 324.5 1651.0 320.5 1643.0 320.9 1635.8 321.1 1630.0 323.5 1625.0 325.5 1620.4 M311.9 1679.4 C307.5 1671.0 305.5 1665.0 306.0 1659.4 306.5 1651.0 310.5 1643.0 310.1 1635.8 309.9 1630.0 307.5 1625.0 305.5 1620.4 M344.9 1679.4 C349.3 1671.0 351.3 1665.0 350.8 1659.4 350.3 1651.0 346.3 1643.0 346.7 1635.8 346.9 1630.0 349.3 1625.0 351.3 1620.4 M337.7 1679.4 C333.3 1671.0 331.3 1665.0 331.8 1659.4 332.3 1651.0 336.3 1643.0 335.9 1635.8 335.7 1630.0 333.3 1625.0 331.3 1620.4 M370.7 1679.4 C375.1 1671.0 377.1 1665.0 376.6 1659.4 376.1 1651.0 372.1 1643.0 372.5 1635.8 372.7 1630.0 375.1 1625.0 377.1 1620.4 M363.5 1679.4 C359.1 1671.0 357.1 1665.0 357.6 1659.4 358.1 1651.0 362.1 1643.0 361.7 1635.8 361.5 1630.0 359.1 1625.0 357.1 1620.4 M396.6 1679.4 C401.0 1671.0 403.0 1665.0 402.5 1659.4 402.0 1651.0 398.0 1643.0 398.4 1635.8 398.6 1630.0 401.0 1625.0 403.0 1620.4 M389.4 1679.4 C385.0 1671.0 383.0 1665.0 383.5 1659.4 384.0 1651.0 388.0 1643.0 387.6 1635.8 387.4 1630.0 385.0 1625.0 383.0 1620.4 M422.4 1679.4 C426.8 1671.0 428.8 1665.0 428.3 1659.4 427.8 1651.0 423.8 1643.0 424.2 1635.8 424.4 1630.0 426.8 1625.0 428.8 1620.4 M415.2 1679.4 C410.8 1671.0 408.8 1665.0 409.3 1659.4 409.8 1651.0 413.8 1643.0 413.4 1635.8 413.2 1630.0 410.8 1625.0 408.8 1620.4 M448.2 1679.4 C452.6 1671.0 454.6 1665.0 454.1 1659.4 453.6 1651.0 449.6 1643.0 450.0 1635.8 450.2 1630.0 452.6 1625.0 454.6 1620.4 M441.0 1679.4 C436.6 1671.0 434.6 1665.0 435.1 1659.4 435.6 1651.0 439.6 1643.0 439.2 1635.8 439.0 1630.0 436.6 1625.0 434.6 1620.4 M474.0 1679.4 C478.4 1671.0 480.4 1665.0 479.9 1659.4 479.4 1651.0 475.4 1643.0 475.8 1635.8 476.0 1630.0 478.4 1625.0 480.4 1620.4 M466.8 1679.4 C462.4 1671.0 460.4 1665.0 460.9 1659.4 461.4 1651.0 465.4 1643.0 465.0 1635.8 464.8 1630.0 462.4 1625.0 460.4 1620.4 M505.1 1679.4 C509.5 1671.0 511.5 1665.0 511.0 1659.4 510.5 1651.0 506.5 1643.0 506.9 1635.8 507.1 1630.0 509.5 1625.0 511.5 1620.4 M497.9 1679.4 C493.5 1671.0 491.5 1665.0 492.0 1659.4 492.5 1651.0 496.5 1643.0 496.1 1635.8 495.9 1630.0 493.5 1625.0 491.5 1620.4 M531.4 1679.4 C535.8 1671.0 537.8 1665.0 537.3 1659.4 536.8 1651.0 532.8 1643.0 533.2 1635.8 533.4 1630.0 535.8 1625.0 537.8 1620.4 M524.2 1679.4 C519.8 1671.0 517.8 1665.0 518.3 1659.4 518.8 1651.0 522.8 1643.0 522.4 1635.8 522.2 1630.0 519.8 1625.0 517.8 1620.4 M557.7 1679.4 C562.1 1671.0 564.1 1665.0 563.6 1659.4 563.1 1651.0 559.1 1643.0 559.5 1635.8 559.7 1630.0 562.1 1625.0 564.1 1620.4 M550.5 1679.4 C546.1 1671.0 544.1 1665.0 544.6 1659.4 545.1 1651.0 549.1 1643.0 548.7 1635.8 548.5 1630.0 546.1 1625.0 544.1 1620.4 M584.0 1679.4 C588.4 1671.0 590.4 1665.0 589.9 1659.4 589.4 1651.0 585.4 1643.0 585.8 1635.8 586.0 1630.0 588.4 1625.0 590.4 1620.4 M576.8 1679.4 C572.4 1671.0 570.4 1665.0 570.9 1659.4 571.4 1651.0 575.4 1643.0 575.0 1635.8 574.8 1630.0 572.4 1625.0 570.4 1620.4 M610.3 1679.4 C614.7 1671.0 616.7 1665.0 616.2 1659.4 615.7 1651.0 611.7 1643.0 612.1 1635.8 612.3 1630.0 614.7 1625.0 616.7 1620.4 M603.1 1679.4 C598.7 1671.0 596.7 1665.0 597.2 1659.4 597.7 1651.0 601.7 1643.0 601.3 1635.8 601.1 1630.0 598.7 1625.0 596.7 1620.4 M636.6 1679.4 C641.0 1671.0 643.0 1665.0 642.5 1659.4 642.0 1651.0 638.0 1643.0 638.4 1635.8 638.6 1630.0 641.0 1625.0 643.0 1620.4 M629.4 1679.4 C625.0 1671.0 623.0 1665.0 623.5 1659.4 624.0 1651.0 628.0 1643.0 627.6 1635.8 627.4 1630.0 625.0 1625.0 623.0 1620.4 M666.8 1679.4 C671.2 1671.0 673.2 1665.0 672.7 1659.4 672.2 1651.0 668.2 1643.0 668.6 1635.8 668.8 1630.0 671.2 1625.0 673.2 1620.4 M659.6 1679.4 C655.2 1671.0 653.2 1665.0 653.7 1659.4 654.2 1651.0 658.2 1643.0 657.8 1635.8 657.6 1630.0 655.2 1625.0 653.2 1620.4 M693.0 1679.4 C697.4 1671.0 699.4 1665.0 698.9 1659.4 698.4 1651.0 694.4 1643.0 694.8 1635.8 695.0 1630.0 697.4 1625.0 699.4 1620.4 M685.8 1679.4 C681.4 1671.0 679.4 1665.0 679.9 1659.4 680.4 1651.0 684.4 1643.0 684.0 1635.8 683.8 1630.0 681.4 1625.0 679.4 1620.4 M719.1 1679.4 C723.5 1671.0 725.5 1665.0 725.0 1659.4 724.5 1651.0 720.5 1643.0 720.9 1635.8 721.1 1630.0 723.5 1625.0 725.5 1620.4 M711.9 1679.4 C707.5 1671.0 705.5 1665.0 706.0 1659.4 706.5 1651.0 710.5 1643.0 710.1 1635.8 709.9 1630.0 707.5 1625.0 705.5 1620.4 M745.3 1679.4 C749.7 1671.0 751.7 1665.0 751.2 1659.4 750.7 1651.0 746.7 1643.0 747.1 1635.8 747.3 1630.0 749.7 1625.0 751.7 1620.4 M738.1 1679.4 C733.7 1671.0 731.7 1665.0 732.2 1659.4 732.7 1651.0 736.7 1643.0 736.3 1635.8 736.1 1630.0 733.7 1625.0 731.7 1620.4 M771.4 1679.4 C775.8 1671.0 777.8 1665.0 777.3 1659.4 776.8 1651.0 772.8 1643.0 773.2 1635.8 773.4 1630.0 775.8 1625.0 777.8 1620.4 M764.2 1679.4 C759.8 1671.0 757.8 1665.0 758.3 1659.4 758.8 1651.0 762.8 1643.0 762.4 1635.8 762.2 1630.0 759.8 1625.0 757.8 1620.4 M797.6 1679.4 C802.0 1671.0 804.0 1665.0 803.5 1659.4 803.0 1651.0 799.0 1643.0 799.4 1635.8 799.6 1630.0 802.0 1625.0 804.0 1620.4 M790.4 1679.4 C786.0 1671.0 784.0 1665.0 784.5 1659.4 785.0 1651.0 789.0 1643.0 788.6 1635.8 788.4 1630.0 786.0 1625.0 784.0 1620.4 M867.3 1679.4 C871.7 1671.0 873.7 1665.0 873.2 1659.4 872.7 1651.0 868.7 1643.0 869.1 1635.8 869.3 1630.0 871.7 1625.0 873.7 1620.4 M860.1 1679.4 C855.7 1671.0 853.7 1665.0 854.2 1659.4 854.7 1651.0 858.7 1643.0 858.3 1635.8 858.1 1630.0 855.7 1625.0 853.7 1620.4 M894.0 1679.4 C898.4 1671.0 900.4 1665.0 899.9 1659.4 899.4 1651.0 895.4 1643.0 895.8 1635.8 896.0 1630.0 898.4 1625.0 900.4 1620.4 M886.8 1679.4 C882.4 1671.0 880.4 1665.0 880.9 1659.4 881.4 1651.0 885.4 1643.0 885.0 1635.8 884.8 1630.0 882.4 1625.0 880.4 1620.4 M920.6 1679.4 C925.0 1671.0 927.0 1665.0 926.5 1659.4 926.0 1651.0 922.0 1643.0 922.4 1635.8 922.6 1630.0 925.0 1625.0 927.0 1620.4 M913.4 1679.4 C909.0 1671.0 907.0 1665.0 907.5 1659.4 908.0 1651.0 912.0 1643.0 911.6 1635.8 911.4 1630.0 909.0 1625.0 907.0 1620.4 M947.3 1679.4 C951.7 1671.0 953.7 1665.0 953.2 1659.4 952.7 1651.0 948.7 1643.0 949.1 1635.8 949.3 1630.0 951.7 1625.0 953.7 1620.4 M940.1 1679.4 C935.7 1671.0 933.7 1665.0 934.2 1659.4 934.7 1651.0 938.7 1643.0 938.3 1635.8 938.1 1630.0 935.7 1625.0 933.7 1620.4 M973.9 1679.4 C978.3 1671.0 980.3 1665.0 979.8 1659.4 979.3 1651.0 975.3 1643.0 975.7 1635.8 975.9 1630.0 978.3 1625.0 980.3 1620.4 M966.7 1679.4 C962.3 1671.0 960.3 1665.0 960.8 1659.4 961.3 1651.0 965.3 1643.0 964.9 1635.8 964.7 1630.0 962.3 1625.0 960.3 1620.4 M1000.6 1679.4 C1005.0 1671.0 1007.0 1665.0 1006.5 1659.4 1006.0 1651.0 1002.0 1643.0 1002.4 1635.8 1002.6 1630.0 1005.0 1625.0 1007.0 1620.4 M993.4 1679.4 C989.0 1671.0 987.0 1665.0 987.5 1659.4 988.0 1651.0 992.0 1643.0 991.6 1635.8 991.4 1630.0 989.0 1625.0 987.0 1620.4 M1027.2 1679.4 C1031.6 1671.0 1033.6 1665.0 1033.1 1659.4 1032.6 1651.0 1028.6 1643.0 1029.0 1635.8 1029.2 1630.0 1031.6 1625.0 1033.6 1620.4 M1020.0 1679.4 C1015.6 1671.0 1013.6 1665.0 1014.1 1659.4 1014.6 1651.0 1018.6 1643.0 1018.2 1635.8 1018.0 1630.0 1015.6 1625.0 1013.6 1620.4 M1053.8 1679.4 C1058.2 1671.0 1060.2 1665.0 1059.8 1659.4 1059.2 1651.0 1055.2 1643.0 1055.7 1635.8 1055.8 1630.0 1058.2 1625.0 1060.2 1620.4 M1046.7 1679.4 C1042.2 1671.0 1040.2 1665.0 1040.8 1659.4 1041.2 1651.0 1045.2 1643.0 1044.8 1635.8 1044.7 1630.0 1042.2 1625.0 1040.2 1620.4 M1080.5 1679.4 C1084.9 1671.0 1086.9 1665.0 1086.4 1659.4 1085.9 1651.0 1081.9 1643.0 1082.3 1635.8 1082.5 1630.0 1084.9 1625.0 1086.9 1620.4 M1073.3 1679.4 C1068.9 1671.0 1066.9 1665.0 1067.4 1659.4 1067.9 1651.0 1071.9 1643.0 1071.5 1635.8 1071.3 1630.0 1068.9 1625.0 1066.9 1620.4 M1107.1 1679.4 C1111.5 1671.0 1113.5 1665.0 1113.0 1659.4 1112.5 1651.0 1108.5 1643.0 1109.0 1635.8 1109.1 1630.0 1111.5 1625.0 1113.5 1620.4 M1100.0 1679.4 C1095.5 1671.0 1093.5 1665.0 1094.0 1659.4 1094.5 1651.0 1098.5 1643.0 1098.1 1635.8 1098.0 1630.0 1095.5 1625.0 1093.5 1620.4 M1133.8 1679.4 C1138.2 1671.0 1140.2 1665.0 1139.7 1659.4 1139.2 1651.0 1135.2 1643.0 1135.6 1635.8 1135.8 1630.0 1138.2 1625.0 1140.2 1620.4 M1126.6 1679.4 C1122.2 1671.0 1120.2 1665.0 1120.7 1659.4 1121.2 1651.0 1125.2 1643.0 1124.8 1635.8 1124.6 1630.0 1122.2 1625.0 1120.2 1620.4 M1160.4 1679.4 C1164.8 1671.0 1166.8 1665.0 1166.3 1659.4 1165.8 1651.0 1161.8 1643.0 1162.2 1635.8 1162.4 1630.0 1164.8 1625.0 1166.8 1620.4 M1153.2 1679.4 C1148.8 1671.0 1146.8 1665.0 1147.3 1659.4 1147.8 1651.0 1151.8 1643.0 1151.4 1635.8 1151.2 1630.0 1148.8 1625.0 1146.8 1620.4 M1187.1 1679.4 C1191.5 1671.0 1193.5 1665.0 1193.0 1659.4 1192.5 1651.0 1188.5 1643.0 1188.9 1635.8 1189.1 1630.0 1191.5 1625.0 1193.5 1620.4 M1179.9 1679.4 C1175.5 1671.0 1173.5 1665.0 1174.0 1659.4 1174.5 1651.0 1178.5 1643.0 1178.1 1635.8 1177.9 1630.0 1175.5 1625.0 1173.5 1620.4 M1213.8 1679.4 C1218.2 1671.0 1220.2 1665.0 1219.7 1659.4 1219.2 1651.0 1215.2 1643.0 1215.6 1635.8 1215.8 1630.0 1218.2 1625.0 1220.2 1620.4 M1206.6 1679.4 C1202.2 1671.0 1200.2 1665.0 1200.7 1659.4 1201.2 1651.0 1205.2 1643.0 1204.8 1635.8 1204.6 1630.0 1202.2 1625.0 1200.2 1620.4 M1240.4 1679.4 C1244.8 1671.0 1246.8 1665.0 1246.3 1659.4 1245.8 1651.0 1241.8 1643.0 1242.2 1635.8 1242.4 1630.0 1244.8 1625.0 1246.8 1620.4 M1233.2 1679.4 C1228.8 1671.0 1226.8 1665.0 1227.3 1659.4 1227.8 1651.0 1231.8 1643.0 1231.4 1635.8 1231.2 1630.0 1228.8 1625.0 1226.8 1620.4 M1267.0 1679.4 C1271.5 1671.0 1273.5 1665.0 1273.0 1659.4 1272.5 1651.0 1268.5 1643.0 1268.9 1635.8 1269.0 1630.0 1271.5 1625.0 1273.5 1620.4 M1259.9 1679.4 C1255.5 1671.0 1253.5 1665.0 1254.0 1659.4 1254.5 1651.0 1258.5 1643.0 1258.0 1635.8 1257.9 1630.0 1255.5 1625.0 1253.5 1620.4 M1287.6 1679.4 C1292.0 1671.0 1294.0 1665.0 1293.5 1659.4 1293.0 1651.0 1289.0 1643.0 1289.4 1635.8 1289.6 1630.0 1292.0 1625.0 1294.0 1620.4 M1280.4 1679.4 C1276.0 1671.0 1274.0 1665.0 1274.5 1659.4 1275.0 1651.0 1279.0 1643.0 1278.6 1635.8 1278.4 1630.0 1276.0 1625.0 1274.0 1620.4 M1310.6 1679.4 C1315.0 1671.0 1317.0 1665.0 1316.5 1659.4 1316.0 1651.0 1312.0 1643.0 1312.4 1635.8 1312.6 1630.0 1315.0 1625.0 1317.0 1620.4 M1303.4 1679.4 C1299.0 1671.0 1297.0 1665.0 1297.5 1659.4 1298.0 1651.0 1302.0 1643.0 1301.6 1635.8 1301.4 1630.0 1299.0 1625.0 1297.0 1620.4 M1337.6 1679.4 C1342.0 1671.0 1344.0 1665.0 1343.5 1659.4 1343.0 1651.0 1339.0 1643.0 1339.5 1635.8 1339.6 1630.0 1342.0 1625.0 1344.0 1620.4 M1330.5 1679.4 C1326.0 1671.0 1324.0 1665.0 1324.5 1659.4 1325.0 1651.0 1329.0 1643.0 1328.6 1635.8 1328.5 1630.0 1326.0 1625.0 1324.0 1620.4 M1364.7 1679.4 C1369.1 1671.0 1371.1 1665.0 1370.6 1659.4 1370.1 1651.0 1366.1 1643.0 1366.5 1635.8 1366.7 1630.0 1369.1 1625.0 1371.1 1620.4 M1357.5 1679.4 C1353.1 1671.0 1351.1 1665.0 1351.6 1659.4 1352.1 1651.0 1356.1 1643.0 1355.7 1635.8 1355.5 1630.0 1353.1 1625.0 1351.1 1620.4 M1391.8 1679.4 C1396.2 1671.0 1398.2 1665.0 1397.7 1659.4 1397.2 1651.0 1393.2 1643.0 1393.6 1635.8 1393.8 1630.0 1396.2 1625.0 1398.2 1620.4 M1384.6 1679.4 C1380.2 1671.0 1378.2 1665.0 1378.7 1659.4 1379.2 1651.0 1383.2 1643.0 1382.8 1635.8 1382.6 1630.0 1380.2 1625.0 1378.2 1620.4 M1418.8 1679.4 C1423.2 1671.0 1425.2 1665.0 1424.7 1659.4 1424.2 1651.0 1420.2 1643.0 1420.6 1635.8 1420.8 1630.0 1423.2 1625.0 1425.2 1620.4 M1411.6 1679.4 C1407.2 1671.0 1405.2 1665.0 1405.7 1659.4 1406.2 1651.0 1410.2 1643.0 1409.8 1635.8 1409.6 1630.0 1407.2 1625.0 1405.2 1620.4 M1445.8 1679.4 C1450.2 1671.0 1452.2 1665.0 1451.8 1659.4 1451.2 1651.0 1447.2 1643.0 1447.7 1635.8 1447.8 1630.0 1450.2 1625.0 1452.2 1620.4 M1438.7 1679.4 C1434.2 1671.0 1432.2 1665.0 1432.8 1659.4 1433.2 1651.0 1437.2 1643.0 1436.8 1635.8 1436.7 1630.0 1434.2 1625.0 1432.2 1620.4 M1472.9 1679.4 C1477.3 1671.0 1479.3 1665.0 1478.8 1659.4 1478.3 1651.0 1474.3 1643.0 1474.7 1635.8 1474.9 1630.0 1477.3 1625.0 1479.3 1620.4 M1465.7 1679.4 C1461.3 1671.0 1459.3 1665.0 1459.8 1659.4 1460.3 1651.0 1464.3 1643.0 1463.9 1635.8 1463.7 1630.0 1461.3 1625.0 1459.3 1620.4 M1499.9 1679.4 C1504.3 1671.0 1506.3 1665.0 1505.8 1659.4 1505.3 1651.0 1501.3 1643.0 1501.8 1635.8 1501.9 1630.0 1504.3 1625.0 1506.3 1620.4 M1492.8 1679.4 C1488.3 1671.0 1486.3 1665.0 1486.8 1659.4 1487.3 1651.0 1491.3 1643.0 1490.9 1635.8 1490.8 1630.0 1488.3 1625.0 1486.3 1620.4 M1527.0 1679.4 C1531.4 1671.0 1533.4 1665.0 1532.9 1659.4 1532.4 1651.0 1528.4 1643.0 1528.8 1635.8 1529.0 1630.0 1531.4 1625.0 1533.4 1620.4 M1519.8 1679.4 C1515.4 1671.0 1513.4 1665.0 1513.9 1659.4 1514.4 1651.0 1518.4 1643.0 1518.0 1635.8 1517.8 1630.0 1515.4 1625.0 1513.4 1620.4 M1554.0 1679.4 C1558.5 1671.0 1560.5 1665.0 1560.0 1659.4 1559.5 1651.0 1555.5 1643.0 1555.9 1635.8 1556.0 1630.0 1558.5 1625.0 1560.5 1620.4 M1546.9 1679.4 C1542.5 1671.0 1540.5 1665.0 1541.0 1659.4 1541.5 1651.0 1545.5 1643.0 1545.0 1635.8 1544.9 1630.0 1542.5 1625.0 1540.5 1620.4 M1581.1 1679.4 C1585.5 1671.0 1587.5 1665.0 1587.0 1659.4 1586.5 1651.0 1582.5 1643.0 1582.9 1635.8 1583.1 1630.0 1585.5 1625.0 1587.5 1620.4 M1573.9 1679.4 C1569.5 1671.0 1567.5 1665.0 1568.0 1659.4 1568.5 1651.0 1572.5 1643.0 1572.1 1635.8 1571.9 1630.0 1569.5 1625.0 1567.5 1620.4 M1608.1 1679.4 C1612.5 1671.0 1614.5 1665.0 1614.0 1659.4 1613.5 1651.0 1609.5 1643.0 1610.0 1635.8 1610.1 1630.0 1612.5 1625.0 1614.5 1620.4 M1601.0 1679.4 C1596.5 1671.0 1594.5 1665.0 1595.0 1659.4 1595.5 1651.0 1599.5 1643.0 1599.1 1635.8 1599.0 1630.0 1596.5 1625.0 1594.5 1620.4 M1635.2 1679.4 C1639.6 1671.0 1641.6 1665.0 1641.1 1659.4 1640.6 1651.0 1636.6 1643.0 1637.0 1635.8 1637.2 1630.0 1639.6 1625.0 1641.6 1620.4 M1628.0 1679.4 C1623.6 1671.0 1621.6 1665.0 1622.1 1659.4 1622.6 1651.0 1626.6 1643.0 1626.2 1635.8 1626.0 1630.0 1623.6 1625.0 1621.6 1620.4 M1662.2 1679.4 C1666.7 1671.0 1668.7 1665.0 1668.2 1659.4 1667.7 1651.0 1663.7 1643.0 1664.1 1635.8 1664.2 1630.0 1666.7 1625.0 1668.7 1620.4 M1655.1 1679.4 C1650.7 1671.0 1648.7 1665.0 1649.2 1659.4 1649.7 1651.0 1653.7 1643.0 1653.2 1635.8 1653.1 1630.0 1650.7 1625.0 1648.7 1620.4 M1689.3 1679.4 C1693.7 1671.0 1695.7 1665.0 1695.2 1659.4 1694.7 1651.0 1690.7 1643.0 1691.1 1635.8 1691.3 1630.0 1693.7 1625.0 1695.7 1620.4 M1682.1 1679.4 C1677.7 1671.0 1675.7 1665.0 1676.2 1659.4 1676.7 1651.0 1680.7 1643.0 1680.3 1635.8 1680.1 1630.0 1677.7 1625.0 1675.7 1620.4 M1716.3 1679.4 C1720.8 1671.0 1722.8 1665.0 1722.2 1659.4 1721.8 1651.0 1717.8 1643.0 1718.2 1635.8 1718.3 1630.0 1720.8 1625.0 1722.8 1620.4 M1709.2 1679.4 C1704.8 1671.0 1702.8 1665.0 1703.2 1659.4 1703.8 1651.0 1707.8 1643.0 1707.3 1635.8 1707.2 1630.0 1704.8 1625.0 1702.8 1620.4 M1743.4 1679.4 C1747.8 1671.0 1749.8 1665.0 1749.3 1659.4 1748.8 1651.0 1744.8 1643.0 1745.2 1635.8 1745.4 1630.0 1747.8 1625.0 1749.8 1620.4 M1736.2 1679.4 C1731.8 1671.0 1729.8 1665.0 1730.3 1659.4 1730.8 1651.0 1734.8 1643.0 1734.4 1635.8 1734.2 1630.0 1731.8 1625.0 1729.8 1620.4" fill="none" stroke="#757575" stroke-width="2.5"/>
<g fill="url(#head)" stroke="#1c1c1c" stroke-width="2.6">
<circle cx="186.0" cy="1539.5" r="11.2"/>
<circle cx="211.4" cy="1539.5" r="11.2"/>
<circle cx="236.9" cy="1539.5" r="11.2"/>
<circle cx="262.4" cy="1539.5" r="11.2"/>
<circle cx="287.8" cy="1539.5" r="11.2"/>
<circle cx="313.2" cy="1539.5" r="11.2"/>
<circle cx="338.7" cy="1539.5" r="11.2"/>
<circle cx="364.1" cy="1539.5" r="11.2"/>
<circle cx="389.6" cy="1539.5" r="11.2"/>
<circle cx="415.0" cy="1539.5" r="11.2"/>
<circle cx="440.5" cy="1539.5" r="11.2"/>
<circle cx="465.9" cy="1539.5" r="11.2"/>
<circle cx="491.4" cy="1539.5" r="11.2"/>
<circle cx="516.8" cy="1539.5" r="11.2"/>
<circle cx="542.3" cy="1539.5" r="11.2"/>
<circle cx="561.0" cy="1539.5" r="11.2"/>
<circle cx="586.5" cy="1539.5" r="11.2"/>
<circle cx="611.9" cy="1539.5" r="11.2"/>
<circle cx="637.4" cy="1539.5" r="11.2"/>
<circle cx="662.8" cy="1539.5" r="11.2"/>
<circle cx="688.2" cy="1539.5" r="11.2"/>
<circle cx="713.7" cy="1539.5" r="11.2"/>
<circle cx="739.1" cy="1539.5" r="11.2"/>
<circle cx="764.6" cy="1539.5" r="11.2"/>
<circle cx="790.0" cy="1539.5" r="11.2"/>
<circle cx="815.5" cy="1539.5" r="11.2"/>
<circle cx="841.0" cy="1539.5" r="11.2"/>
<circle cx="866.4" cy="1539.5" r="11.2"/>
<circle cx="884.0" cy="1539.5" r="11.2"/>
<circle cx="911.2" cy="1539.5" r="11.2"/>
<circle cx="938.4" cy="1539.5" r="11.2"/>
<circle cx="965.6" cy="1539.5" r="11.2"/>
<circle cx="992.8" cy="1539.5" r="11.2"/>
<circle cx="1020.0" cy="1539.5" r="11.2"/>
<circle cx="1047.2" cy="1539.5" r="11.2"/>
<circle cx="1074.4" cy="1539.5" r="11.2"/>
<circle cx="1101.6" cy="1539.5" r="11.2"/>
<circle cx="1128.8" cy="1539.5" r="11.2"/>
<circle cx="1156.0" cy="1539.5" r="11.2"/>
<circle cx="1183.2" cy="1539.5" r="11.2"/>
<circle cx="1208.0" cy="1539.5" r="11.2"/>
<circle cx="1236.0" cy="1539.5" r="11.2"/>
<circle cx="1262.0" cy="1539.5" r="11.2"/>
<circle cx="1288.0" cy="1539.5" r="11.2"/>
<circle cx="1310.5" cy="1539.5" r="11.2"/>
<circle cx="1337.5" cy="1539.5" r="11.2"/>
<circle cx="1364.4" cy="1539.5" r="11.2"/>
<circle cx="1391.4" cy="1539.5" r="11.2"/>
<circle cx="1418.4" cy="1539.5" r="11.2"/>
<circle cx="1445.3" cy="1539.5" r="11.2"/>
<circle cx="1472.3" cy="1539.5" r="11.2"/>
<circle cx="1499.3" cy="1539.5" r="11.2"/>
<circle cx="1526.3" cy="1539.5" r="11.2"/>
<circle cx="1553.2" cy="1539.5" r="11.2"/>
<circle cx="1580.2" cy="1539.5" r="11.2"/>
<circle cx="1607.2" cy="1539.5" r="11.2"/>
<circle cx="1634.1" cy="1539.5" r="11.2"/>
<circle cx="1661.1" cy="1539.5" r="11.2"/>
<circle cx="1688.1" cy="1539.5" r="11.2"/>
<circle cx="1715.0" cy="1539.5" r="11.2"/>
<circle cx="1742.0" cy="1539.5" r="11.2"/>
<circle cx="186.4" cy="1693" r="11.2"/>
<circle cx="212.2" cy="1693" r="11.2"/>
<circle cx="238.0" cy="1693" r="11.2"/>
<circle cx="263.9" cy="1693" r="11.2"/>
<circle cx="289.7" cy="1693" r="11.2"/>
<circle cx="315.5" cy="1693" r="11.2"/>
<circle cx="341.3" cy="1693" r="11.2"/>
<circle cx="367.1" cy="1693" r="11.2"/>
<circle cx="393.0" cy="1693" r="11.2"/>
<circle cx="418.8" cy="1693" r="11.2"/>
<circle cx="444.6" cy="1693" r="11.2"/>
<circle cx="470.4" cy="1693" r="11.2"/>
<circle cx="501.5" cy="1693" r="11.2"/>
<circle cx="527.8" cy="1693" r="11.2"/>
<circle cx="554.1" cy="1693" r="11.2"/>
<circle cx="580.4" cy="1693" r="11.2"/>
<circle cx="606.7" cy="1693" r="11.2"/>
<circle cx="633.0" cy="1693" r="11.2"/>
<circle cx="663.2" cy="1693" r="11.2"/>
<circle cx="689.4" cy="1693" r="11.2"/>
<circle cx="715.5" cy="1693" r="11.2"/>
<circle cx="741.7" cy="1693" r="11.2"/>
<circle cx="767.8" cy="1693" r="11.2"/>
<circle cx="794.0" cy="1693" r="11.2"/>
<circle cx="863.7" cy="1693" r="11.2"/>
<circle cx="890.4" cy="1693" r="11.2"/>
<circle cx="917.0" cy="1693" r="11.2"/>
<circle cx="943.7" cy="1693" r="11.2"/>
<circle cx="970.3" cy="1693" r="11.2"/>
<circle cx="997.0" cy="1693" r="11.2"/>
<circle cx="1023.6" cy="1693" r="11.2"/>
<circle cx="1050.2" cy="1693" r="11.2"/>
<circle cx="1076.9" cy="1693" r="11.2"/>
<circle cx="1103.5" cy="1693" r="11.2"/>
<circle cx="1130.2" cy="1693" r="11.2"/>
<circle cx="1156.8" cy="1693" r="11.2"/>
<circle cx="1183.5" cy="1693" r="11.2"/>
<circle cx="1210.2" cy="1693" r="11.2"/>
<circle cx="1236.8" cy="1693" r="11.2"/>
<circle cx="1263.5" cy="1693" r="11.2"/>
<circle cx="1284.0" cy="1693" r="11.2"/>
<circle cx="1307.0" cy="1693" r="11.2"/>
<circle cx="1334.0" cy="1693" r="11.2"/>
<circle cx="1361.1" cy="1693" r="11.2"/>
<circle cx="1388.2" cy="1693" r="11.2"/>
<circle cx="1415.2" cy="1693" r="11.2"/>
<circle cx="1442.2" cy="1693" r="11.2"/>
<circle cx="1469.3" cy="1693" r="11.2"/>
<circle cx="1496.3" cy="1693" r="11.2"/>
<circle cx="1523.4" cy="1693" r="11.2"/>
<circle cx="1550.5" cy="1693" r="11.2"/>
<circle cx="1577.5" cy="1693" r="11.2"/>
<circle cx="1604.5" cy="1693" r="11.2"/>
<circle cx="1631.6" cy="1693" r="11.2"/>
<circle cx="1658.7" cy="1693" r="11.2"/>
<circle cx="1685.7" cy="1693" r="11.2"/>
<circle cx="1712.8" cy="1693" r="11.2"/>
<circle cx="1739.8" cy="1693" r="11.2"/>
</g>
<rect x="178.5" y="1354" width="220" height="90" fill="#fff" stroke="#1a1a1a" stroke-width="2.2"/>
<rect x="177.5" y="1350" width="221" height="7" fill="#a9aaad"/>
<text x="289" y="1390" font-size="34.5" fill="#1a1a1a" text-anchor="middle">Строма</text>
<text x="289" y="1432" font-size="34.5" fill="#1a1a1a" text-anchor="middle">хлоропласта</text>
<rect x="188" y="1573.5" width="199" height="88" fill="#fff" stroke="#1a1a1a" stroke-width="2.2"/>
<text x="289" y="1605" font-size="34.5" fill="#1a1a1a" text-anchor="middle">Мембрана</text>
<text x="289" y="1652" font-size="34.5" fill="#1a1a1a" text-anchor="middle">тилакоида</text>
<rect x="178" y="1717.5" width="220" height="126" fill="#fff" stroke="#1a1a1a" stroke-width="2.2"/>
<text x="289" y="1749" font-size="34.5" fill="#1a1a1a" text-anchor="middle">Внутренняя</text>
<text x="289" y="1791" font-size="34.5" fill="#1a1a1a" text-anchor="middle">среда</text>
<text x="289" y="1833.5" font-size="34.5" fill="#1a1a1a" text-anchor="middle">тилакоида</text>
<text x="182" y="1498.6" font-size="35" fill="#1a1a1a">Фотосистема II</text>
<text x="520.5" y="1497" font-size="34.5" fill="#1a1a1a">Фотосистема I</text>
<g transform="translate(0.0,0)"><path d="M421.3 1536 L553.1 1536 L514.5 1684 L462.6 1690 Z" fill="#fff"/><path d="M452 1654 L463 1692 M522 1654 L514 1686" stroke="#1a1a1a" stroke-width="2.2"/><path d="M452 1654 L441.3 1618 Q487 1632 531.2 1618 L521.9 1654 Q487 1668 452 1654 Z" fill="url(#grn2)" stroke="#1a1a1a" stroke-width="2.4"/><path d="M441.3 1618 L433.3 1583 Q487 1597 541.2 1580 L531.2 1618 Q487 1632 441.3 1618 Z" fill="url(#grn1)" stroke="#1a1a1a" stroke-width="2.4"/><path d="M421.3 1536 L433.3 1583 Q487 1597 541.2 1580 L553.1 1536 Z" fill="url(#orng)" stroke="#1a1a1a" stroke-width="2.4"/><ellipse cx="487.2" cy="1536" rx="66" ry="20.6" fill="url(#orng)" stroke="#1a1a1a" stroke-width="2.6"/><ellipse cx="486.6" cy="1696.4" rx="23.3" ry="15.3" fill="url(#rc)" stroke="#1a1a1a" stroke-width="2.2"/><path d="M483 1580.5 L491 1580.5 L491 1591.8 L497 1591.8 L487 1601.8 L477 1591.8 L483 1591.8 Z" fill="#ed1c24" stroke="#fbb040" stroke-width="2.2" stroke-linejoin="round"/><path d="M483 1616.5 L491 1616.5 L491 1631.8 L497 1631.8 L487 1641.8 L477 1631.8 L483 1631.8 Z" fill="#ed1c24" stroke="#fbb040" stroke-width="2.2" stroke-linejoin="round"/><path d="M483 1655 L491 1655 L491 1675.7 L497 1675.7 L487 1685.7 L477 1675.7 L483 1675.7 Z" fill="#ed1c24" stroke="#fbb040" stroke-width="2.2" stroke-linejoin="round"/></g>
<g transform="translate(329.5,0)"><path d="M421.3 1536 L553.1 1536 L514.5 1684 L462.6 1690 Z" fill="#fff"/><path d="M452 1654 L463 1692 M522 1654 L514 1686" stroke="#1a1a1a" stroke-width="2.2"/><path d="M452 1654 L441.3 1618 Q487 1632 531.2 1618 L521.9 1654 Q487 1668 452 1654 Z" fill="url(#grn2)" stroke="#1a1a1a" stroke-width="2.4"/><path d="M441.3 1618 L433.3 1583 Q487 1597 541.2 1580 L531.2 1618 Q487 1632 441.3 1618 Z" fill="url(#grn1)" stroke="#1a1a1a" stroke-width="2.4"/><path d="M421.3 1536 L433.3 1583 Q487 1597 541.2 1580 L553.1 1536 Z" fill="url(#orng)" stroke="#1a1a1a" stroke-width="2.4"/><ellipse cx="487.2" cy="1536" rx="66" ry="20.6" fill="url(#orng)" stroke="#1a1a1a" stroke-width="2.6"/><ellipse cx="486.6" cy="1696.4" rx="23.3" ry="15.3" fill="url(#rc)" stroke="#1a1a1a" stroke-width="2.2"/><path d="M483 1580.5 L491 1580.5 L491 1591.8 L497 1591.8 L487 1601.8 L477 1591.8 L483 1591.8 Z" fill="#ed1c24" stroke="#fbb040" stroke-width="2.2" stroke-linejoin="round"/><path d="M483 1616.5 L491 1616.5 L491 1631.8 L497 1631.8 L487 1641.8 L477 1631.8 L483 1631.8 Z" fill="#ed1c24" stroke="#fbb040" stroke-width="2.2" stroke-linejoin="round"/><path d="M483 1655 L491 1655 L491 1675.7 L497 1675.7 L487 1685.7 L477 1675.7 L483 1675.7 Z" fill="#ed1c24" stroke="#fbb040" stroke-width="2.2" stroke-linejoin="round"/></g>
<path d="M393 1505 L443 1540 M712 1507 L775 1538" stroke="#1a1a1a" stroke-width="2"/>
<path d="M438.6 1424.7 L486.3 1473.0 L499.8 1459.2 L491.6 1501.7 L448.6 1510.1 L461.4 1497.2 L414.1 1449.2 Z" fill="#fff200" stroke="#ed1c24" stroke-width="2.6" stroke-linejoin="miter"/>
<text x="457.1" y="1468.2" font-size="33" fill="#1a1a1a" text-anchor="middle" dominant-baseline="central" transform="rotate(45 457.1 1468.2)">Свет</text>
<path d="M765.3 1424.5 L813.0 1472.8 L826.5 1459.0 L818.3 1501.5 L775.3 1509.9 L788.1 1497.0 L740.8 1449.0 Z" fill="#fff200" stroke="#ed1c24" stroke-width="2.6" stroke-linejoin="miter"/>
<text x="783.8" y="1468.0" font-size="33" fill="#1a1a1a" text-anchor="middle" dominant-baseline="central" transform="rotate(45 783.8 1468.0)">Свет</text>
<path d="M274.0 1860.7 L321.7 1909.0 L335.2 1895.2 L327.0 1937.7 L284.0 1946.1 L296.8 1933.2 L249.5 1885.2 Z" fill="#fff200" stroke="#ed1c24" stroke-width="2.6" stroke-linejoin="miter"/>
<text x="292.5" y="1904.2" font-size="33" fill="#1a1a1a" text-anchor="middle" dominant-baseline="central" transform="rotate(45 292.5 1904.2)">Свет</text>
<path d="M1204 1537.5 C1180 1522 1169 1505 1169 1484 C1169 1446 1203 1419 1246 1419 C1289 1419 1323 1446 1323 1484 C1323 1505 1312 1522 1288.5 1537.5 L1288.5 1662 C1288.5 1686 1276 1700.5 1258 1700.5 L1234 1700.5 C1216 1700.5 1204 1686 1204 1662 Z" fill="url(#atp)" stroke="#1a1a1a" stroke-width="3"/>
<path d="M1232 1421 L1232 1700 M1257 1421 L1257 1700" stroke="#1a1a1a" stroke-width="1.8" stroke-dasharray="9 4.6"/>
<path d="M503 1694 C560 1645 620 1622 675 1626 C730 1630 770 1665 793 1695" fill="none" stroke="#fff" stroke-width="7"/>
<path d="M503 1694 C560 1645 620 1622 675 1626 C730 1630 770 1665 793 1695" fill="none" stroke="#1a7bb9" stroke-width="3"/>
<path d="M815 1704 L781 1711 L790 1685 Z" fill="#1a7bb9" stroke="#fff" stroke-width="2"/>
<path d="M837 1690.6 C870 1686 893 1660 902 1600 C908 1560 909 1500 909 1420" fill="none" stroke="#fff" stroke-width="7"/>
<path d="M837 1690.6 C870 1686 893 1660 902 1600 C908 1560 909 1500 909 1420" fill="none" stroke="#1a7bb9" stroke-width="3"/>
<path d="M909 1393 L898 1424 L920 1424 Z" fill="#1a7bb9"/>
<path d="M487 1936 L487 1735" stroke="#1a7bb9" stroke-width="3"/>
<path d="M487 1713 L475 1741 L499 1741 Z" fill="#1a7bb9"/>
<path d="M605 1948 L878 1771" stroke="#e3202a" stroke-width="2.6"/>
<path d="M896 1761 L866 1762 L878 1781 Z" fill="#e3202a"/>
<path d="M1243.3 1727 L1243.3 1408" stroke="#e3202a" stroke-width="3.2"/>
<path d="M1243.3 1389 L1231 1413 L1255.5 1413 Z" fill="#e3202a"/>
<path d="M1166 1444 L1330 1444" stroke="#f58a2a" stroke-width="3"/>
<path d="M1350 1444 L1326 1432 L1326 1456 Z" fill="#f58a2a"/>
<path d="M1129 1356 L1170 1322" stroke="#1a7bb9" stroke-width="2.6"/>
<path d="M1181.5 1312.7 L1160 1320 L1171 1333 Z" fill="#1a7bb9"/>
<path d="M1243 1356 L1200 1321" stroke="#e3202a" stroke-width="2.6"/>
<path d="M1190.6 1312.7 L1196 1333 L1208 1320 Z" fill="#e3202a"/>
<path d="M1486 1298.5 L1600 1298.5 M1423 1441 L1600 1441" stroke="#1a1a1a" stroke-width="2.6" stroke-dasharray="10 6"/>
<path d="M1628 1299 L1599 1287 L1599 1311 Z M1628 1441 L1599 1429 L1599 1453 Z" fill="#1a1a1a"/>
<path d="M1628.2 1269 L1628.2 1462" stroke="#1a1a1a" stroke-width="2.2"/>
<path d="M1628.2 1487 L1616 1457 L1640.5 1457 Z" fill="#1a1a1a"/>
<path d="M274 1953.3 L350 1953.3" stroke="#1a1a1a" stroke-width="2.6"/>
<path d="M374 1953.3 L347 1941 L347 1965.5 Z" fill="#1a1a1a"/>
<path d="M503.5 1709 L540 1731 M773 1732 L814 1706 M1269 1711 L1318 1793" stroke="#1a1a1a" stroke-width="2"/>
<text x="812" y="1168.6" font-size="34.5" font-weight="bold" fill="#1a1a1a">Световая</text>
<text x="893.5" y="1216" font-size="34.5" font-weight="bold" fill="#1a1a1a" text-anchor="middle">фаза</text>
<text x="1623" y="1168" font-size="34.5" font-weight="bold" fill="#1a1a1a" text-anchor="middle">Темновая</text>
<text x="1622.5" y="1215.3" font-size="34.5" font-weight="bold" fill="#1a1a1a" text-anchor="middle">фаза</text>
<text x="1587.6" y="1264.4" font-size="34.5" fill="#1a1a1a">6CO<tspan font-size="26" dy="8">2</tspan></text>
<text x="1561" y="1509" font-size="34.5" fill="#1a1a1a">C<tspan font-size="26" dy="8">6</tspan><tspan dy="-8">H</tspan><tspan font-size="26" dy="8">12</tspan><tspan dy="-8">O</tspan><tspan font-size="26" dy="8">6</tspan></text>
<text x="1178" y="1306.5" font-size="33.3" fill="#1a1a1a">H (атомы водорода)</text>
<text x="900" y="1385.3" font-size="36" fill="#1a7bb9">e<tspan font-size="24" dy="-17" dx="-3">–</tspan></text>
<text x="969" y="1385.3" font-size="36" fill="#1a7bb9">e<tspan font-size="24" dy="-17" dx="-3">–</tspan></text>
<text x="1040" y="1385.3" font-size="36" fill="#1a7bb9">e<tspan font-size="24" dy="-17" dx="-3">–</tspan></text>
<text x="1110.6" y="1385.3" font-size="36" fill="#1a7bb9">e<tspan font-size="24" dy="-17" dx="-3">–</tspan></text>
<text x="1234" y="1383.5" font-size="34.5" fill="#e3202a">H<tspan font-size="24" dy="-15">+</tspan></text>
<text x="944" y="1457" font-size="34.5" fill="#f58a2a">АДФ + H<tspan font-size="26" dy="8">3</tspan><tspan dy="-8">PO</tspan><tspan font-size="26" dy="8">4</tspan></text>
<text x="1358" y="1457" font-size="34.5" fill="#f58a2a">АТФ</text>
<text x="641.5" y="1616" font-size="34.5" fill="#1a7bb9">e<tspan font-size="24" dy="-15">–</tspan></text>
<text x="547" y="1743" font-size="34.5" fill="#1a1a1a">Реакционные</text>
<text x="661.5" y="1792" font-size="34.5" fill="#1a1a1a" text-anchor="middle">центры</text>
<text x="898" y="1756.4" font-size="34.5" fill="#e3202a">H<tspan font-size="24" dy="-15">+</tspan></text>
<text x="1010.7" y="1756.4" font-size="34.5" fill="#e3202a">H<tspan font-size="24" dy="-15">+</tspan></text>
<text x="1122.4" y="1756.4" font-size="34.5" fill="#e3202a">H<tspan font-size="24" dy="-15">+</tspan></text>
<text x="1233" y="1756.4" font-size="34.5" fill="#e3202a">H<tspan font-size="24" dy="-15">+</tspan></text>
<text x="1200.6" y="1815" font-size="34.5" fill="#1a1a1a">АТФ- синтетаза</text>
<text x="184" y="1964.2" font-size="34.5" fill="#1a1a1a">2H<tspan font-size="26" dy="8">2</tspan><tspan dy="-8">O</tspan></text>
<text x="383.6" y="1962.4" font-size="34.5" fill="#1a1a1a">O<tspan font-size="26" dy="8">2</tspan></text>
<path d="M428.6 1965 L428.6 1938 M422.5 1947 L428.6 1937 L434.7 1947" fill="none" stroke="#1a1a1a" stroke-width="2.4"/>
<text x="438" y="1962.4" font-size="31" fill="#1a1a1a">+</text>
<text x="466.7" y="1962.4" font-size="34.5" fill="#1a7bb9">4e<tspan font-size="24" dy="-15">–</tspan></text>
<text x="524" y="1962.4" font-size="31" fill="#1a1a1a">+</text>
<text x="549.8" y="1962.4" font-size="34.5" fill="#e3202a">4H<tspan font-size="24" dy="-15">+</tspan></text>
<text x="205.9" y="2008.7" font-size="34.5" fill="#1a1a1a">Фотолиз воды</text>
</svg><svg class="a" style="left:0;top:0" width="2043" height="2750" viewBox="0 0 2043 2750" font-family="Liberation Sans, sans-serif">
<text x="820" y="29.4" font-size="28" fill="#22dd22">Ищите нас по запросу ГДЗ Бай</text>
<text x="845" y="2734" font-size="28.5" fill="#1a3fd8" xml:space="preserve">gdz by  //  гдз бай  //  гдз by</text>
<g font-size="31" fill="#111">
<text x="1350" y="88.7">gdz.by</text>
<text x="57.5" y="173">gdz.by</text>
<text x="702" y="245">gdz.by</text>
<text x="1638" y="293">gdz.by</text>
<text x="1249.3" y="464.8">gdz.by</text>
<text x="794" y="528">gdz.by</text>
<text x="1757.5" y="576.6">gdz.by</text>
<text x="65.3" y="801">gdz.by</text>
<text x="257.5" y="1100.6">gdz.by</text>
<text x="1721" y="1273">gdz.by</text>
<text x="794" y="1320">gdz.by</text>
<text x="1381" y="1368">gdz.by</text>
<text x="570" y="1416">gdz.by</text>
<text x="1010" y="1500">gdz.by</text>
<text x="1550" y="1776">gdz.by</text>
<text x="38" y="1840">gdz.by</text>
<text x="461" y="1896">gdz.by</text>
<text x="1797" y="1948">gdz.by</text>
<text x="1313" y="2016">gdz.by</text>
<text x="314" y="2153">gdz.by</text>
<text x="1829" y="2412">gdz.by</text>
<text x="701" y="2476">gdz.by</text>
<text x="9.3" y="2568.7">gdz.by</text>
<text x="1069" y="2641">gdz.by</text>
</g></svg>
</div>
</body></html>
